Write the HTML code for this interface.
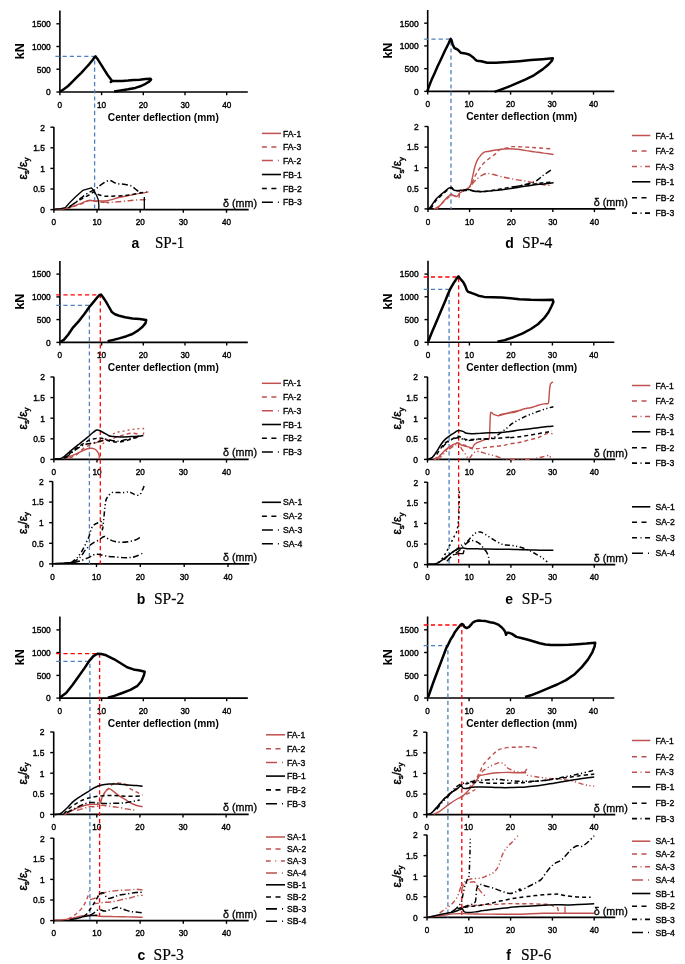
<!DOCTYPE html>
<html><head><meta charset="utf-8"><style>
html,body{margin:0;padding:0;background:#fff;width:685px;height:964px;overflow:hidden;}
svg{display:block;will-change:transform;}

</style></head><body>
<svg width="685" height="964" viewBox="0 0 685 964">
<rect width="685" height="964" fill="#fff"/>
<path d="M59.9,10.5 V92.0 H247.8" fill="none" stroke="#000" stroke-width="1.6"/>
<path d="M56.4,92.0 H59.9" stroke="#000" stroke-width="1.4"/>
<text transform="translate(50.8,95.3) scale(0.9,1)" font-size="9.4" text-anchor="end" font-family="Liberation Sans, sans-serif" stroke="#000" stroke-width="0.4">0</text>
<path d="M56.4,69.2 H59.9" stroke="#000" stroke-width="1.4"/>
<text transform="translate(50.8,72.5) scale(0.9,1)" font-size="9.4" text-anchor="end" font-family="Liberation Sans, sans-serif" stroke="#000" stroke-width="0.4">500</text>
<path d="M56.4,46.5 H59.9" stroke="#000" stroke-width="1.4"/>
<text transform="translate(50.8,49.8) scale(0.9,1)" font-size="9.4" text-anchor="end" font-family="Liberation Sans, sans-serif" stroke="#000" stroke-width="0.4">1000</text>
<path d="M56.4,23.8 H59.9" stroke="#000" stroke-width="1.4"/>
<text transform="translate(50.8,27.1) scale(0.9,1)" font-size="9.4" text-anchor="end" font-family="Liberation Sans, sans-serif" stroke="#000" stroke-width="0.4">1500</text>
<path d="M59.9,92.0 V95.2" stroke="#000" stroke-width="1.4"/>
<text transform="translate(59.9,107.6) scale(0.9,1)" font-size="9.1" text-anchor="middle" font-family="Liberation Sans, sans-serif" stroke="#000" stroke-width="0.4">0</text>
<path d="M101.6,92.0 V95.2" stroke="#000" stroke-width="1.4"/>
<text transform="translate(101.6,107.6) scale(0.9,1)" font-size="9.1" text-anchor="middle" font-family="Liberation Sans, sans-serif" stroke="#000" stroke-width="0.4">10</text>
<path d="M143.3,92.0 V95.2" stroke="#000" stroke-width="1.4"/>
<text transform="translate(143.3,107.6) scale(0.9,1)" font-size="9.1" text-anchor="middle" font-family="Liberation Sans, sans-serif" stroke="#000" stroke-width="0.4">20</text>
<path d="M185.0,92.0 V95.2" stroke="#000" stroke-width="1.4"/>
<text transform="translate(185.0,107.6) scale(0.9,1)" font-size="9.1" text-anchor="middle" font-family="Liberation Sans, sans-serif" stroke="#000" stroke-width="0.4">30</text>
<path d="M226.7,92.0 V95.2" stroke="#000" stroke-width="1.4"/>
<text transform="translate(226.7,107.6) scale(0.9,1)" font-size="9.1" text-anchor="middle" font-family="Liberation Sans, sans-serif" stroke="#000" stroke-width="0.4">40</text>
<text transform="translate(19.6,51.2) rotate(-90)" x="0" y="4.5" font-size="12.5" font-weight="bold" text-anchor="middle" font-family="Liberation Sans, sans-serif">kN</text>
<text x="163.3" y="120.6" font-size="10.8" text-anchor="middle" font-weight="bold" font-family="Liberation Sans, sans-serif" textLength="111" lengthAdjust="spacingAndGlyphs">Center deflection (mm)</text>
<path d="M53.9,127.0 V209.6 H248.7" fill="none" stroke="#000" stroke-width="1.6"/>
<path d="M50.4,209.6 H53.9" stroke="#000" stroke-width="1.4"/>
<text transform="translate(44.9,212.9) scale(0.9,1)" font-size="9.4" text-anchor="end" font-family="Liberation Sans, sans-serif" stroke="#000" stroke-width="0.4">0</text>
<path d="M50.4,189.0 H53.9" stroke="#000" stroke-width="1.4"/>
<text transform="translate(44.9,192.3) scale(0.9,1)" font-size="9.4" text-anchor="end" font-family="Liberation Sans, sans-serif" stroke="#000" stroke-width="0.4">0.5</text>
<path d="M50.4,168.4 H53.9" stroke="#000" stroke-width="1.4"/>
<text transform="translate(44.9,171.7) scale(0.9,1)" font-size="9.4" text-anchor="end" font-family="Liberation Sans, sans-serif" stroke="#000" stroke-width="0.4">1</text>
<path d="M50.4,147.8 H53.9" stroke="#000" stroke-width="1.4"/>
<text transform="translate(44.9,151.1) scale(0.9,1)" font-size="9.4" text-anchor="end" font-family="Liberation Sans, sans-serif" stroke="#000" stroke-width="0.4">1.5</text>
<path d="M50.4,127.2 H53.9" stroke="#000" stroke-width="1.4"/>
<text transform="translate(44.9,130.5) scale(0.9,1)" font-size="9.4" text-anchor="end" font-family="Liberation Sans, sans-serif" stroke="#000" stroke-width="0.4">2</text>
<path d="M53.9,209.6 V212.8" stroke="#000" stroke-width="1.4"/>
<text transform="translate(53.9,225.2) scale(0.9,1)" font-size="9.1" text-anchor="middle" font-family="Liberation Sans, sans-serif" stroke="#000" stroke-width="0.4">0</text>
<path d="M97.0,209.6 V212.8" stroke="#000" stroke-width="1.4"/>
<text transform="translate(97.0,225.2) scale(0.9,1)" font-size="9.1" text-anchor="middle" font-family="Liberation Sans, sans-serif" stroke="#000" stroke-width="0.4">10</text>
<path d="M140.2,209.6 V212.8" stroke="#000" stroke-width="1.4"/>
<text transform="translate(140.2,225.2) scale(0.9,1)" font-size="9.1" text-anchor="middle" font-family="Liberation Sans, sans-serif" stroke="#000" stroke-width="0.4">20</text>
<path d="M183.3,209.6 V212.8" stroke="#000" stroke-width="1.4"/>
<text transform="translate(183.3,225.2) scale(0.9,1)" font-size="9.1" text-anchor="middle" font-family="Liberation Sans, sans-serif" stroke="#000" stroke-width="0.4">30</text>
<path d="M226.5,209.6 V212.8" stroke="#000" stroke-width="1.4"/>
<text transform="translate(226.5,225.2) scale(0.9,1)" font-size="9.1" text-anchor="middle" font-family="Liberation Sans, sans-serif" stroke="#000" stroke-width="0.4">40</text>
<text transform="translate(22.5,168.6) rotate(-90)" x="0" y="4" font-size="12" text-anchor="middle" stroke="#000" stroke-width="0.45" font-family="Liberation Sans, sans-serif">ε<tspan font-size="8" dy="2.6">s</tspan><tspan dy="-2.6">/ε</tspan><tspan font-size="8" dy="2.6">y</tspan></text>
<text x="223.0" y="206.6" font-size="10.2" text-anchor="start" font-weight="normal" font-family="Liberation Sans, sans-serif" textLength="34" lengthAdjust="spacingAndGlyphs" stroke="#000" stroke-width="0.3">δ (mm)</text>
<path d="M55.4,56.4 H94.6 V211.0" fill="none" stroke="#4F81BD" stroke-width="1.3" stroke-dasharray="4.2,3"/>
<path d="M60.1,91.5 L63.8,89.3 L68.1,86.0 L72.5,81.6 L76.9,77.2 L81.3,72.8 L85.7,68.0 L89.3,64.1 L92.2,60.4 L94.4,57.5 L95.6,56.4 L97.3,58.7 L100.3,63.4 L103.9,69.2 L107.6,75.0 L111.2,79.7 L111.9,80.9 L110.8,82.0 L112.7,80.9 L116.3,80.9 L122.2,80.9 L128.0,80.6 L133.8,80.1 L139.7,79.7 L145.5,79.1 L150.6,78.8 L151.1,79.7 L149.2,81.6 L145.5,83.8 L141.1,86.0 L135.3,87.9 L128.0,89.3 L120.7,90.4 L114.1,91.4" fill="none" stroke="#000" stroke-width="2.5" stroke-linejoin="round" stroke-linecap="butt"/>
<path d="M55.0,209.1 C56.5,209.1 60.8,209.3 63.8,208.8 C66.7,208.4 69.6,207.4 72.5,206.5 C75.4,205.6 78.6,204.3 81.3,203.3 C84.0,202.3 86.6,200.8 88.6,200.4 C90.5,199.9 91.3,200.6 93.0,200.7 C94.7,200.8 96.8,200.9 98.8,200.9 C100.7,201.0 102.7,201.1 104.6,200.9 C106.6,200.8 108.3,200.5 110.5,199.9 C112.7,199.4 115.1,198.4 117.8,197.7 C120.5,197.1 123.6,196.6 126.5,196.0 C129.5,195.4 132.6,194.6 135.3,194.1 C138.0,193.6 140.4,193.4 142.6,193.1 C144.8,192.7 147.5,192.1 148.4,191.9" fill="none" stroke="#C0504D" stroke-width="1.4" stroke-linejoin="round"/>
<path d="M66.7,208.7 C67.9,208.3 71.5,207.3 74.0,206.5 C76.4,205.7 78.8,204.8 81.3,203.9 C83.7,202.9 86.1,201.4 88.6,200.9 C91.0,200.5 93.4,201.1 95.9,201.4 C98.3,201.6 101.0,202.2 103.2,202.4 C105.4,202.7 108.0,202.8 109.0,202.8" fill="none" stroke="#C0504D" stroke-width="1.4" stroke-linejoin="round" stroke-dasharray="4,3"/>
<path d="M103.2,201.8 C104.4,201.9 108.0,202.4 110.5,202.4 C112.9,202.4 115.1,202.1 117.8,201.8 C120.5,201.6 123.9,201.2 126.5,200.9 C129.2,200.7 131.6,200.4 133.8,200.2 C136.0,200.0 137.2,200.0 139.7,199.9 C142.1,199.8 147.0,199.6 148.4,199.5" fill="none" stroke="#C0504D" stroke-width="1.4" stroke-linejoin="round" stroke-dasharray="6,2.5,1.2,2.5"/>
<path d="M55.0,209.1 L60.8,208.7 L65.2,207.7 L69.6,202.8 L75.4,197.0 L82.7,190.4 L91.5,187.8 L93.7,190.4 L96.6,195.5 L98.1,199.2 L98.8,203.6 L98.8,209.1" fill="none" stroke="#000" stroke-width="1.3" stroke-linejoin="round" stroke-linecap="butt"/>
<path d="M68.1,208.0 C69.1,207.2 72.0,204.9 74.0,203.6 C75.9,202.2 77.7,201.1 79.8,199.9 C81.9,198.7 84.6,197.3 86.4,196.3 C88.2,195.3 89.5,194.8 90.8,194.1 C92.0,193.4 92.6,191.9 93.7,191.9 C94.8,191.9 95.8,193.4 97.3,194.1 C98.9,194.8 101.2,195.6 103.2,196.0 C105.1,196.4 106.8,196.3 109.0,196.3 C111.2,196.3 113.6,196.1 116.3,196.0 C119.0,195.9 122.4,195.8 125.1,195.5 C127.7,195.3 129.9,194.9 132.4,194.5 C134.8,194.1 137.2,193.5 139.7,193.1 C142.1,192.6 145.8,192.1 147.0,191.9" fill="none" stroke="#000" stroke-width="1.5" stroke-linejoin="round" stroke-dasharray="4,3"/>
<path d="M69.6,206.5 C70.8,205.6 74.5,203.2 76.9,201.4 C79.3,199.6 81.8,197.3 84.2,195.5 C86.6,193.8 89.5,192.3 91.5,191.2 C93.4,190.1 94.4,190.0 95.9,189.0 C97.3,188.0 98.1,186.7 100.3,185.3 C102.4,183.9 106.3,180.8 109.0,180.5 C111.7,180.2 113.9,182.8 116.3,183.4 C118.7,184.1 121.2,183.9 123.6,184.3 C126.0,184.7 129.0,185.0 130.9,185.8 C132.9,186.5 134.0,188.0 135.3,189.0 C136.6,190.0 138.0,191.3 138.9,191.9 C139.9,192.5 140.8,192.5 141.1,192.6" fill="none" stroke="#000" stroke-width="1.5" stroke-linejoin="round" stroke-dasharray="6,2.5,1.2,2.5"/>
<path d="M144.3,197.0 L144.3,209.1" fill="none" stroke="#000" stroke-width="1.3" stroke-linejoin="round" stroke-linecap="butt"/>
<path d="M261.9,133.4 H281.0" stroke="#C0504D" stroke-width="1.5"/>
<text x="283.1" y="136.5" font-size="8.6" text-anchor="start" font-weight="normal" font-family="Liberation Sans, sans-serif" stroke="#000" stroke-width="0.35">FA-1</text>
<path d="M261.9,147.1 H281.0" stroke="#C0504D" stroke-width="1.5" stroke-dasharray="5,4.5"/>
<text x="283.1" y="150.2" font-size="8.6" text-anchor="start" font-weight="normal" font-family="Liberation Sans, sans-serif" stroke="#000" stroke-width="0.35">FA-3</text>
<path d="M261.9,160.6 H281.0" stroke="#C0504D" stroke-width="1.5" stroke-dasharray="11,5,1,20"/>
<text x="283.1" y="163.7" font-size="8.6" text-anchor="start" font-weight="normal" font-family="Liberation Sans, sans-serif" stroke="#000" stroke-width="0.35">FA-2</text>
<path d="M261.9,174.5 H281.0" stroke="#000" stroke-width="1.6"/>
<text x="283.1" y="177.6" font-size="8.6" text-anchor="start" font-weight="normal" font-family="Liberation Sans, sans-serif" stroke="#000" stroke-width="0.35">FB-1</text>
<path d="M261.9,188.5 H281.0" stroke="#000" stroke-width="1.6" stroke-dasharray="5,4.5"/>
<text x="283.1" y="191.6" font-size="8.6" text-anchor="start" font-weight="normal" font-family="Liberation Sans, sans-serif" stroke="#000" stroke-width="0.35">FB-2</text>
<path d="M261.9,202.2 H281.0" stroke="#000" stroke-width="1.6" stroke-dasharray="11,5,1,20"/>
<text x="283.1" y="205.3" font-size="8.6" text-anchor="start" font-weight="normal" font-family="Liberation Sans, sans-serif" stroke="#000" stroke-width="0.35">FB-3</text>
<text x="131.6" y="247.8" font-size="14" text-anchor="start" font-weight="bold" font-family="Liberation Sans, sans-serif">a</text>
<text x="154.9" y="247.8" font-size="16.3" font-family="Liberation Serif, serif" stroke="#000" stroke-width="0.2" textLength="29.3" lengthAdjust="spacingAndGlyphs">SP-1</text>
<path d="M59.9,260.9 V342.4 H247.8" fill="none" stroke="#000" stroke-width="1.6"/>
<path d="M56.4,342.4 H59.9" stroke="#000" stroke-width="1.4"/>
<text transform="translate(50.8,345.7) scale(0.9,1)" font-size="9.4" text-anchor="end" font-family="Liberation Sans, sans-serif" stroke="#000" stroke-width="0.4">0</text>
<path d="M56.4,319.6 H59.9" stroke="#000" stroke-width="1.4"/>
<text transform="translate(50.8,322.9) scale(0.9,1)" font-size="9.4" text-anchor="end" font-family="Liberation Sans, sans-serif" stroke="#000" stroke-width="0.4">500</text>
<path d="M56.4,296.9 H59.9" stroke="#000" stroke-width="1.4"/>
<text transform="translate(50.8,300.2) scale(0.9,1)" font-size="9.4" text-anchor="end" font-family="Liberation Sans, sans-serif" stroke="#000" stroke-width="0.4">1000</text>
<path d="M56.4,274.1 H59.9" stroke="#000" stroke-width="1.4"/>
<text transform="translate(50.8,277.4) scale(0.9,1)" font-size="9.4" text-anchor="end" font-family="Liberation Sans, sans-serif" stroke="#000" stroke-width="0.4">1500</text>
<path d="M59.9,342.4 V345.6" stroke="#000" stroke-width="1.4"/>
<text transform="translate(59.9,358.0) scale(0.9,1)" font-size="9.1" text-anchor="middle" font-family="Liberation Sans, sans-serif" stroke="#000" stroke-width="0.4">0</text>
<path d="M101.6,342.4 V345.6" stroke="#000" stroke-width="1.4"/>
<text transform="translate(101.6,358.0) scale(0.9,1)" font-size="9.1" text-anchor="middle" font-family="Liberation Sans, sans-serif" stroke="#000" stroke-width="0.4">10</text>
<path d="M143.3,342.4 V345.6" stroke="#000" stroke-width="1.4"/>
<text transform="translate(143.3,358.0) scale(0.9,1)" font-size="9.1" text-anchor="middle" font-family="Liberation Sans, sans-serif" stroke="#000" stroke-width="0.4">20</text>
<path d="M185.0,342.4 V345.6" stroke="#000" stroke-width="1.4"/>
<text transform="translate(185.0,358.0) scale(0.9,1)" font-size="9.1" text-anchor="middle" font-family="Liberation Sans, sans-serif" stroke="#000" stroke-width="0.4">30</text>
<path d="M226.7,342.4 V345.6" stroke="#000" stroke-width="1.4"/>
<text transform="translate(226.7,358.0) scale(0.9,1)" font-size="9.1" text-anchor="middle" font-family="Liberation Sans, sans-serif" stroke="#000" stroke-width="0.4">40</text>
<text transform="translate(19.6,301.6) rotate(-90)" x="0" y="4.5" font-size="12.5" font-weight="bold" text-anchor="middle" font-family="Liberation Sans, sans-serif">kN</text>
<text x="163.3" y="371.0" font-size="10.8" text-anchor="middle" font-weight="bold" font-family="Liberation Sans, sans-serif" textLength="111" lengthAdjust="spacingAndGlyphs">Center deflection (mm)</text>
<path d="M53.9,376.8 V459.4 H248.7" fill="none" stroke="#000" stroke-width="1.6"/>
<path d="M50.4,459.4 H53.9" stroke="#000" stroke-width="1.4"/>
<text transform="translate(44.9,462.7) scale(0.9,1)" font-size="9.4" text-anchor="end" font-family="Liberation Sans, sans-serif" stroke="#000" stroke-width="0.4">0</text>
<path d="M50.4,438.8 H53.9" stroke="#000" stroke-width="1.4"/>
<text transform="translate(44.9,442.1) scale(0.9,1)" font-size="9.4" text-anchor="end" font-family="Liberation Sans, sans-serif" stroke="#000" stroke-width="0.4">0.5</text>
<path d="M50.4,418.2 H53.9" stroke="#000" stroke-width="1.4"/>
<text transform="translate(44.9,421.5) scale(0.9,1)" font-size="9.4" text-anchor="end" font-family="Liberation Sans, sans-serif" stroke="#000" stroke-width="0.4">1</text>
<path d="M50.4,397.6 H53.9" stroke="#000" stroke-width="1.4"/>
<text transform="translate(44.9,400.9) scale(0.9,1)" font-size="9.4" text-anchor="end" font-family="Liberation Sans, sans-serif" stroke="#000" stroke-width="0.4">1.5</text>
<path d="M50.4,377.0 H53.9" stroke="#000" stroke-width="1.4"/>
<text transform="translate(44.9,380.3) scale(0.9,1)" font-size="9.4" text-anchor="end" font-family="Liberation Sans, sans-serif" stroke="#000" stroke-width="0.4">2</text>
<path d="M53.9,459.4 V462.6" stroke="#000" stroke-width="1.4"/>
<text transform="translate(53.9,475.0) scale(0.9,1)" font-size="9.1" text-anchor="middle" font-family="Liberation Sans, sans-serif" stroke="#000" stroke-width="0.4">0</text>
<path d="M97.0,459.4 V462.6" stroke="#000" stroke-width="1.4"/>
<text transform="translate(97.0,475.0) scale(0.9,1)" font-size="9.1" text-anchor="middle" font-family="Liberation Sans, sans-serif" stroke="#000" stroke-width="0.4">10</text>
<path d="M140.2,459.4 V462.6" stroke="#000" stroke-width="1.4"/>
<text transform="translate(140.2,475.0) scale(0.9,1)" font-size="9.1" text-anchor="middle" font-family="Liberation Sans, sans-serif" stroke="#000" stroke-width="0.4">20</text>
<path d="M183.3,459.4 V462.6" stroke="#000" stroke-width="1.4"/>
<text transform="translate(183.3,475.0) scale(0.9,1)" font-size="9.1" text-anchor="middle" font-family="Liberation Sans, sans-serif" stroke="#000" stroke-width="0.4">30</text>
<path d="M226.5,459.4 V462.6" stroke="#000" stroke-width="1.4"/>
<text transform="translate(226.5,475.0) scale(0.9,1)" font-size="9.1" text-anchor="middle" font-family="Liberation Sans, sans-serif" stroke="#000" stroke-width="0.4">40</text>
<text transform="translate(22.7,418.4) rotate(-90)" x="0" y="4" font-size="12" text-anchor="middle" stroke="#000" stroke-width="0.45" font-family="Liberation Sans, sans-serif">ε<tspan font-size="8" dy="2.6">s</tspan><tspan dy="-2.6">/ε</tspan><tspan font-size="8" dy="2.6">y</tspan></text>
<text x="223.0" y="456.4" font-size="10.2" text-anchor="start" font-weight="normal" font-family="Liberation Sans, sans-serif" textLength="34" lengthAdjust="spacingAndGlyphs" stroke="#000" stroke-width="0.3">δ (mm)</text>
<path d="M52.6,481.3 V563.9 H249.2" fill="none" stroke="#000" stroke-width="1.6"/>
<path d="M49.1,563.9 H52.6" stroke="#000" stroke-width="1.4"/>
<text transform="translate(43.7,567.2) scale(0.9,1)" font-size="9.4" text-anchor="end" font-family="Liberation Sans, sans-serif" stroke="#000" stroke-width="0.4">0</text>
<path d="M49.1,543.3 H52.6" stroke="#000" stroke-width="1.4"/>
<text transform="translate(43.7,546.6) scale(0.9,1)" font-size="9.4" text-anchor="end" font-family="Liberation Sans, sans-serif" stroke="#000" stroke-width="0.4">0.5</text>
<path d="M49.1,522.7 H52.6" stroke="#000" stroke-width="1.4"/>
<text transform="translate(43.7,526.0) scale(0.9,1)" font-size="9.4" text-anchor="end" font-family="Liberation Sans, sans-serif" stroke="#000" stroke-width="0.4">1</text>
<path d="M49.1,502.1 H52.6" stroke="#000" stroke-width="1.4"/>
<text transform="translate(43.7,505.4) scale(0.9,1)" font-size="9.4" text-anchor="end" font-family="Liberation Sans, sans-serif" stroke="#000" stroke-width="0.4">1.5</text>
<path d="M49.1,481.5 H52.6" stroke="#000" stroke-width="1.4"/>
<text transform="translate(43.7,484.8) scale(0.9,1)" font-size="9.4" text-anchor="end" font-family="Liberation Sans, sans-serif" stroke="#000" stroke-width="0.4">2</text>
<path d="M52.6,563.9 V567.1" stroke="#000" stroke-width="1.4"/>
<text transform="translate(52.6,579.5) scale(0.9,1)" font-size="9.1" text-anchor="middle" font-family="Liberation Sans, sans-serif" stroke="#000" stroke-width="0.4">0</text>
<path d="M96.5,563.9 V567.1" stroke="#000" stroke-width="1.4"/>
<text transform="translate(96.5,579.5) scale(0.9,1)" font-size="9.1" text-anchor="middle" font-family="Liberation Sans, sans-serif" stroke="#000" stroke-width="0.4">10</text>
<path d="M140.3,563.9 V567.1" stroke="#000" stroke-width="1.4"/>
<text transform="translate(140.3,579.5) scale(0.9,1)" font-size="9.1" text-anchor="middle" font-family="Liberation Sans, sans-serif" stroke="#000" stroke-width="0.4">20</text>
<path d="M184.2,563.9 V567.1" stroke="#000" stroke-width="1.4"/>
<text transform="translate(184.2,579.5) scale(0.9,1)" font-size="9.1" text-anchor="middle" font-family="Liberation Sans, sans-serif" stroke="#000" stroke-width="0.4">30</text>
<path d="M228.0,563.9 V567.1" stroke="#000" stroke-width="1.4"/>
<text transform="translate(228.0,579.5) scale(0.9,1)" font-size="9.1" text-anchor="middle" font-family="Liberation Sans, sans-serif" stroke="#000" stroke-width="0.4">40</text>
<text transform="translate(22.7,522.9) rotate(-90)" x="0" y="4" font-size="12" text-anchor="middle" stroke="#000" stroke-width="0.45" font-family="Liberation Sans, sans-serif">ε<tspan font-size="8" dy="2.6">s</tspan><tspan dy="-2.6">/ε</tspan><tspan font-size="8" dy="2.6">y</tspan></text>
<text x="223.0" y="560.9" font-size="10.2" text-anchor="start" font-weight="normal" font-family="Liberation Sans, sans-serif" textLength="34" lengthAdjust="spacingAndGlyphs" stroke="#000" stroke-width="0.3">δ (mm)</text>
<path d="M56.2,294.9 H100.3 V564.0" fill="none" stroke="#FF0000" stroke-width="1.3" stroke-dasharray="4.2,3"/>
<path d="M56.2,305.4 H89.4 V564.0" fill="none" stroke="#4F81BD" stroke-width="1.3" stroke-dasharray="4.2,3"/>
<path d="M60.1,342.0 L63.8,339.9 L68.1,334.7 L72.5,328.2 L78.4,321.6 L84.2,314.3 L89.3,307.0 L93.0,302.6 L96.6,298.2 L99.5,295.0 L101.0,294.6 L103.2,297.5 L106.1,301.9 L109.0,307.0 L111.9,312.1 L114.9,314.3 L119.2,315.8 L125.1,317.2 L132.4,318.4 L139.7,319.1 L146.2,320.1 L145.5,323.1 L142.6,326.7 L138.2,330.4 L132.4,334.0 L126.5,336.2 L119.2,338.4 L113.4,339.9 L107.6,341.3" fill="none" stroke="#000" stroke-width="2.5" stroke-linejoin="round" stroke-linecap="butt"/>
<path d="M63.8,458.8 C64.7,458.4 67.4,457.5 69.6,456.6 C71.8,455.8 74.5,454.8 76.9,453.7 C79.3,452.6 82.0,450.9 84.2,450.0 C86.4,449.1 88.3,448.5 90.0,448.3 C91.7,448.1 93.2,448.3 94.4,448.9 C95.6,449.4 96.6,450.6 97.3,451.5 C98.1,452.4 98.4,453.2 98.8,454.4 C99.2,455.6 99.4,458.1 99.5,458.8" fill="none" stroke="#C0504D" stroke-width="1.4" stroke-linejoin="round"/>
<path d="M69.6,458.1 C70.8,457.5 74.5,456.1 76.9,454.4 C79.3,452.7 82.0,449.4 84.2,447.8 C86.4,446.3 88.1,445.8 90.0,444.9 C92.0,444.1 94.4,443.2 95.9,442.7 C97.3,442.3 97.3,442.4 98.8,442.0 C100.3,441.6 102.9,440.8 104.6,440.5 C106.3,440.3 107.6,440.9 109.0,440.5 C110.5,440.2 111.7,439.1 113.4,438.4 C115.1,437.6 117.3,436.8 119.2,436.2 C121.2,435.6 123.1,435.2 125.1,434.7 C127.0,434.2 129.0,433.4 130.9,433.2 C132.9,433.1 135.5,433.4 136.8,433.7 C138.0,433.9 138.0,434.5 138.2,434.7" fill="none" stroke="#C0504D" stroke-width="1.4" stroke-linejoin="round" stroke-dasharray="4,3"/>
<path d="M98.8,439.8 C99.5,440.4 102.2,443.5 103.2,443.5 C104.1,443.5 103.4,441.2 104.6,439.8 C105.9,438.5 108.5,436.7 110.5,435.4 C112.4,434.2 114.1,433.2 116.3,432.5 C118.5,431.8 121.2,431.5 123.6,431.1 C126.0,430.6 128.7,430.0 130.9,429.6 C133.1,429.2 134.7,429.0 136.8,428.9 C138.8,428.7 142.2,427.5 143.3,428.6 C144.4,429.7 143.3,434.3 143.3,435.4" fill="none" stroke="#C0504D" stroke-width="1.4" stroke-linejoin="round" stroke-dasharray="2,3"/>
<path d="M55.0,458.8 C56.1,458.7 59.6,458.8 61.6,458.1 C63.5,457.3 64.9,455.9 66.7,454.4 C68.5,453.0 70.3,451.1 72.5,449.3 C74.7,447.5 77.4,445.4 79.8,443.5 C82.3,441.5 84.9,439.5 87.1,437.6 C89.3,435.8 91.4,433.8 93.0,432.5 C94.5,431.3 95.6,430.4 96.6,430.0 C97.6,429.7 97.7,429.9 98.8,430.3 C99.9,430.7 101.5,431.6 103.2,432.5 C104.9,433.4 107.3,435.0 109.0,435.7 C110.7,436.4 111.4,436.4 113.4,436.6 C115.3,436.8 117.8,436.9 120.7,436.9 C123.6,436.9 128.0,436.7 130.9,436.6 C133.8,436.5 136.1,436.4 138.2,436.2 C140.3,436.0 142.5,435.6 143.3,435.4" fill="none" stroke="#000" stroke-width="1.5" stroke-linejoin="round"/>
<path d="M63.8,458.5 C64.7,457.7 67.7,455.3 69.6,453.7 C71.5,452.1 73.5,450.3 75.4,448.9 C77.4,447.4 79.3,446.2 81.3,444.9 C83.2,443.7 85.4,442.2 87.1,441.3 C88.8,440.4 90.0,440.0 91.5,439.5 C93.0,439.0 94.4,438.6 95.9,438.4 C97.3,438.1 98.8,437.9 100.3,438.1 C101.7,438.2 102.9,438.6 104.6,439.1 C106.3,439.6 108.5,440.8 110.5,441.3 C112.4,441.8 114.4,442.0 116.3,442.0 C118.3,442.1 120.2,441.9 122.2,441.6 C124.1,441.3 126.0,440.6 128.0,440.1 C129.9,439.6 131.9,438.9 133.8,438.4 C135.8,437.8 138.7,436.9 139.7,436.6" fill="none" stroke="#000" stroke-width="1.5" stroke-linejoin="round" stroke-dasharray="4,3"/>
<path d="M65.2,458.1 C66.2,457.3 69.1,454.8 71.1,453.2 C73.0,451.7 74.7,450.3 76.9,448.9 C79.1,447.5 82.0,445.8 84.2,444.9 C86.4,444.0 88.1,443.9 90.0,443.5 C92.0,443.1 94.2,442.8 95.9,442.4 C97.6,442.1 98.6,441.8 100.3,441.3 C102.0,440.8 104.1,439.6 106.1,439.5 C108.0,439.4 110.0,440.3 111.9,440.5 C113.9,440.8 115.6,441.4 117.8,441.3 C120.0,441.2 122.4,440.4 125.1,439.8 C127.7,439.2 131.4,438.2 133.8,437.6 C136.3,437.0 138.7,436.4 139.7,436.2" fill="none" stroke="#000" stroke-width="1.5" stroke-linejoin="round" stroke-dasharray="6,2.5,1.2,2.5"/>
<path d="M55.0,563.4 C56.5,563.3 61.3,563.1 63.8,563.0 C66.2,562.8 67.9,562.8 69.6,562.7 C71.3,562.5 73.2,562.1 74.0,561.9" fill="none" stroke="#000" stroke-width="1.5" stroke-linejoin="round"/>
<path d="M71.1,562.7 C72.0,561.9 75.1,559.9 76.9,558.0 C78.7,556.1 80.4,553.6 82.0,551.0 C83.6,548.4 85.2,544.8 86.4,542.2 C87.6,539.7 88.5,538.0 89.3,535.7 C90.2,533.4 90.6,530.2 91.5,528.4 C92.3,526.5 93.2,525.7 94.4,524.7 C95.6,523.7 97.6,523.0 98.8,522.5 C100.0,522.1 100.8,520.9 101.4,522.1 C102.0,523.3 102.1,529.9 102.4,529.8 C102.8,529.8 103.1,525.1 103.5,521.8 C103.8,518.5 104.3,513.5 104.6,510.1 C105.0,506.7 105.2,503.5 105.7,501.4 C106.1,499.2 106.5,498.4 107.6,497.0 C108.6,495.5 110.2,493.3 111.9,492.6 C113.6,491.9 115.8,492.6 117.8,492.6 C119.7,492.6 121.9,492.7 123.6,492.6 C125.3,492.5 126.8,491.9 128.0,491.9 C129.2,491.9 129.7,492.1 130.9,492.6 C132.1,493.1 133.8,494.4 135.3,494.8 C136.8,495.2 138.5,495.6 139.7,494.8 C140.9,493.9 141.9,491.1 142.6,489.7 C143.3,488.2 143.8,486.6 144.1,486.0" fill="none" stroke="#000" stroke-width="1.5" stroke-linejoin="round" stroke-dasharray="5,2.5,1.2,2.5,1.2,2.5"/>
<path d="M72.5,562.4 C73.7,561.6 77.6,559.7 79.8,557.6 C82.0,555.4 84.0,551.6 85.7,549.5 C87.4,547.5 88.6,546.4 90.0,545.2 C91.5,543.9 93.0,543.1 94.4,542.2 C95.9,541.4 97.6,540.8 98.8,540.0 C100.0,539.3 100.7,538.5 101.7,537.9 C102.7,537.2 103.4,536.2 104.6,536.4 C105.9,536.6 107.3,538.5 109.0,539.3 C110.7,540.2 112.7,541.0 114.9,541.5 C117.0,542.0 119.7,542.2 122.2,542.2 C124.6,542.2 127.3,541.9 129.5,541.5 C131.6,541.1 133.5,540.8 135.3,540.0 C137.1,539.3 139.5,537.6 140.4,537.1" fill="none" stroke="#000" stroke-width="1.5" stroke-linejoin="round" stroke-dasharray="6,2.5,1.2,2.5"/>
<path d="M74.0,562.4 C75.2,562.1 78.8,561.3 81.3,560.5 C83.7,559.7 86.6,558.5 88.6,557.6 C90.5,556.7 91.6,555.6 93.0,555.1 C94.3,554.5 95.4,554.3 96.6,554.2 C97.8,554.1 98.7,554.3 100.3,554.6 C101.8,555.0 103.9,555.7 106.1,556.1 C108.3,556.5 110.7,556.6 113.4,556.8 C116.1,557.1 119.5,557.4 122.2,557.6 C124.8,557.7 127.3,557.7 129.5,557.6 C131.6,557.4 133.1,557.3 135.3,556.5 C137.5,555.8 141.4,553.7 142.6,553.2" fill="none" stroke="#000" stroke-width="1.5" stroke-linejoin="round" stroke-dasharray="6,2.5,1.2,2.5"/>
<path d="M261.9,383.3 H281.0" stroke="#C0504D" stroke-width="1.5"/>
<text x="283.1" y="386.4" font-size="8.6" text-anchor="start" font-weight="normal" font-family="Liberation Sans, sans-serif" stroke="#000" stroke-width="0.35">FA-1</text>
<path d="M261.9,397.1 H281.0" stroke="#C0504D" stroke-width="1.5" stroke-dasharray="5,4.5"/>
<text x="283.1" y="400.2" font-size="8.6" text-anchor="start" font-weight="normal" font-family="Liberation Sans, sans-serif" stroke="#000" stroke-width="0.35">FA-2</text>
<path d="M261.9,410.8 H281.0" stroke="#C0504D" stroke-width="1.5" stroke-dasharray="11,5,1,20"/>
<text x="283.1" y="413.9" font-size="8.6" text-anchor="start" font-weight="normal" font-family="Liberation Sans, sans-serif" stroke="#000" stroke-width="0.35">FA-3</text>
<path d="M261.9,424.5 H281.0" stroke="#000" stroke-width="1.6"/>
<text x="283.1" y="427.6" font-size="8.6" text-anchor="start" font-weight="normal" font-family="Liberation Sans, sans-serif" stroke="#000" stroke-width="0.35">FB-1</text>
<path d="M261.9,438.3 H281.0" stroke="#000" stroke-width="1.6" stroke-dasharray="5,4.5"/>
<text x="283.1" y="441.4" font-size="8.6" text-anchor="start" font-weight="normal" font-family="Liberation Sans, sans-serif" stroke="#000" stroke-width="0.35">FB-2</text>
<path d="M261.9,452.0 H281.0" stroke="#000" stroke-width="1.6" stroke-dasharray="11,5,1,20"/>
<text x="283.1" y="455.1" font-size="8.6" text-anchor="start" font-weight="normal" font-family="Liberation Sans, sans-serif" stroke="#000" stroke-width="0.35">FB-3</text>
<path d="M261.9,502.3 H281.0" stroke="#000" stroke-width="1.6"/>
<text x="283.1" y="505.4" font-size="8.6" text-anchor="start" font-weight="normal" font-family="Liberation Sans, sans-serif" stroke="#000" stroke-width="0.35">SA-1</text>
<path d="M261.9,516.3 H281.0" stroke="#000" stroke-width="1.6" stroke-dasharray="5,4.5"/>
<text x="283.1" y="519.4" font-size="8.6" text-anchor="start" font-weight="normal" font-family="Liberation Sans, sans-serif" stroke="#000" stroke-width="0.35">SA-2</text>
<path d="M261.9,530.0 H281.0" stroke="#000" stroke-width="1.6" stroke-dasharray="11,5,1,20"/>
<text x="283.1" y="533.1" font-size="8.6" text-anchor="start" font-weight="normal" font-family="Liberation Sans, sans-serif" stroke="#000" stroke-width="0.35">SA-3</text>
<path d="M261.9,543.8 H281.0" stroke="#000" stroke-width="1.6" stroke-dasharray="11,5,1,20"/>
<text x="283.1" y="546.9" font-size="8.6" text-anchor="start" font-weight="normal" font-family="Liberation Sans, sans-serif" stroke="#000" stroke-width="0.35">SA-4</text>
<text x="136.7" y="603.7" font-size="14" text-anchor="start" font-weight="bold" font-family="Liberation Sans, sans-serif">b</text>
<text x="153.9" y="603.7" font-size="16.3" font-family="Liberation Serif, serif" stroke="#000" stroke-width="0.2" textLength="30.3" lengthAdjust="spacingAndGlyphs">SP-2</text>
<path d="M59.9,616.6 V698.1 H247.8" fill="none" stroke="#000" stroke-width="1.6"/>
<path d="M56.4,698.1 H59.9" stroke="#000" stroke-width="1.4"/>
<text transform="translate(50.8,701.4) scale(0.9,1)" font-size="9.4" text-anchor="end" font-family="Liberation Sans, sans-serif" stroke="#000" stroke-width="0.4">0</text>
<path d="M56.4,675.4 H59.9" stroke="#000" stroke-width="1.4"/>
<text transform="translate(50.8,678.6) scale(0.9,1)" font-size="9.4" text-anchor="end" font-family="Liberation Sans, sans-serif" stroke="#000" stroke-width="0.4">500</text>
<path d="M56.4,652.6 H59.9" stroke="#000" stroke-width="1.4"/>
<text transform="translate(50.8,655.9) scale(0.9,1)" font-size="9.4" text-anchor="end" font-family="Liberation Sans, sans-serif" stroke="#000" stroke-width="0.4">1000</text>
<path d="M56.4,629.9 H59.9" stroke="#000" stroke-width="1.4"/>
<text transform="translate(50.8,633.1) scale(0.9,1)" font-size="9.4" text-anchor="end" font-family="Liberation Sans, sans-serif" stroke="#000" stroke-width="0.4">1500</text>
<path d="M59.9,698.1 V701.3" stroke="#000" stroke-width="1.4"/>
<text transform="translate(59.9,713.7) scale(0.9,1)" font-size="9.1" text-anchor="middle" font-family="Liberation Sans, sans-serif" stroke="#000" stroke-width="0.4">0</text>
<path d="M101.6,698.1 V701.3" stroke="#000" stroke-width="1.4"/>
<text transform="translate(101.6,713.7) scale(0.9,1)" font-size="9.1" text-anchor="middle" font-family="Liberation Sans, sans-serif" stroke="#000" stroke-width="0.4">10</text>
<path d="M143.3,698.1 V701.3" stroke="#000" stroke-width="1.4"/>
<text transform="translate(143.3,713.7) scale(0.9,1)" font-size="9.1" text-anchor="middle" font-family="Liberation Sans, sans-serif" stroke="#000" stroke-width="0.4">20</text>
<path d="M185.0,698.1 V701.3" stroke="#000" stroke-width="1.4"/>
<text transform="translate(185.0,713.7) scale(0.9,1)" font-size="9.1" text-anchor="middle" font-family="Liberation Sans, sans-serif" stroke="#000" stroke-width="0.4">30</text>
<path d="M226.7,698.1 V701.3" stroke="#000" stroke-width="1.4"/>
<text transform="translate(226.7,713.7) scale(0.9,1)" font-size="9.1" text-anchor="middle" font-family="Liberation Sans, sans-serif" stroke="#000" stroke-width="0.4">40</text>
<text transform="translate(19.6,657.3) rotate(-90)" x="0" y="4.5" font-size="12.5" font-weight="bold" text-anchor="middle" font-family="Liberation Sans, sans-serif">kN</text>
<text x="163.3" y="726.7" font-size="10.8" text-anchor="middle" font-weight="bold" font-family="Liberation Sans, sans-serif" textLength="111" lengthAdjust="spacingAndGlyphs">Center deflection (mm)</text>
<path d="M53.7,731.8 V814.4 H248.7" fill="none" stroke="#000" stroke-width="1.6"/>
<path d="M50.2,814.4 H53.7" stroke="#000" stroke-width="1.4"/>
<text transform="translate(44.4,817.7) scale(0.9,1)" font-size="9.4" text-anchor="end" font-family="Liberation Sans, sans-serif" stroke="#000" stroke-width="0.4">0</text>
<path d="M50.2,793.8 H53.7" stroke="#000" stroke-width="1.4"/>
<text transform="translate(44.4,797.1) scale(0.9,1)" font-size="9.4" text-anchor="end" font-family="Liberation Sans, sans-serif" stroke="#000" stroke-width="0.4">0.5</text>
<path d="M50.2,773.2 H53.7" stroke="#000" stroke-width="1.4"/>
<text transform="translate(44.4,776.5) scale(0.9,1)" font-size="9.4" text-anchor="end" font-family="Liberation Sans, sans-serif" stroke="#000" stroke-width="0.4">1</text>
<path d="M50.2,752.6 H53.7" stroke="#000" stroke-width="1.4"/>
<text transform="translate(44.4,755.9) scale(0.9,1)" font-size="9.4" text-anchor="end" font-family="Liberation Sans, sans-serif" stroke="#000" stroke-width="0.4">1.5</text>
<path d="M50.2,732.0 H53.7" stroke="#000" stroke-width="1.4"/>
<text transform="translate(44.4,735.3) scale(0.9,1)" font-size="9.4" text-anchor="end" font-family="Liberation Sans, sans-serif" stroke="#000" stroke-width="0.4">2</text>
<path d="M53.7,814.4 V817.6" stroke="#000" stroke-width="1.4"/>
<text transform="translate(53.7,830.0) scale(0.9,1)" font-size="9.1" text-anchor="middle" font-family="Liberation Sans, sans-serif" stroke="#000" stroke-width="0.4">0</text>
<path d="M96.8,814.4 V817.6" stroke="#000" stroke-width="1.4"/>
<text transform="translate(96.8,830.0) scale(0.9,1)" font-size="9.1" text-anchor="middle" font-family="Liberation Sans, sans-serif" stroke="#000" stroke-width="0.4">10</text>
<path d="M139.9,814.4 V817.6" stroke="#000" stroke-width="1.4"/>
<text transform="translate(139.9,830.0) scale(0.9,1)" font-size="9.1" text-anchor="middle" font-family="Liberation Sans, sans-serif" stroke="#000" stroke-width="0.4">20</text>
<path d="M183.0,814.4 V817.6" stroke="#000" stroke-width="1.4"/>
<text transform="translate(183.0,830.0) scale(0.9,1)" font-size="9.1" text-anchor="middle" font-family="Liberation Sans, sans-serif" stroke="#000" stroke-width="0.4">30</text>
<path d="M226.1,814.4 V817.6" stroke="#000" stroke-width="1.4"/>
<text transform="translate(226.1,830.0) scale(0.9,1)" font-size="9.1" text-anchor="middle" font-family="Liberation Sans, sans-serif" stroke="#000" stroke-width="0.4">40</text>
<text transform="translate(22.7,773.4) rotate(-90)" x="0" y="4" font-size="12" text-anchor="middle" stroke="#000" stroke-width="0.45" font-family="Liberation Sans, sans-serif">ε<tspan font-size="8" dy="2.6">s</tspan><tspan dy="-2.6">/ε</tspan><tspan font-size="8" dy="2.6">y</tspan></text>
<text x="223.0" y="811.4" font-size="10.2" text-anchor="start" font-weight="normal" font-family="Liberation Sans, sans-serif" textLength="34" lengthAdjust="spacingAndGlyphs" stroke="#000" stroke-width="0.3">δ (mm)</text>
<path d="M53.7,838.0 V920.6 H248.7" fill="none" stroke="#000" stroke-width="1.6"/>
<path d="M50.2,920.6 H53.7" stroke="#000" stroke-width="1.4"/>
<text transform="translate(44.7,923.9) scale(0.9,1)" font-size="9.4" text-anchor="end" font-family="Liberation Sans, sans-serif" stroke="#000" stroke-width="0.4">0</text>
<path d="M50.2,900.0 H53.7" stroke="#000" stroke-width="1.4"/>
<text transform="translate(44.7,903.3) scale(0.9,1)" font-size="9.4" text-anchor="end" font-family="Liberation Sans, sans-serif" stroke="#000" stroke-width="0.4">0.5</text>
<path d="M50.2,879.4 H53.7" stroke="#000" stroke-width="1.4"/>
<text transform="translate(44.7,882.7) scale(0.9,1)" font-size="9.4" text-anchor="end" font-family="Liberation Sans, sans-serif" stroke="#000" stroke-width="0.4">1</text>
<path d="M50.2,858.8 H53.7" stroke="#000" stroke-width="1.4"/>
<text transform="translate(44.7,862.1) scale(0.9,1)" font-size="9.4" text-anchor="end" font-family="Liberation Sans, sans-serif" stroke="#000" stroke-width="0.4">1.5</text>
<path d="M50.2,838.2 H53.7" stroke="#000" stroke-width="1.4"/>
<text transform="translate(44.7,841.5) scale(0.9,1)" font-size="9.4" text-anchor="end" font-family="Liberation Sans, sans-serif" stroke="#000" stroke-width="0.4">2</text>
<path d="M53.7,920.6 V923.8" stroke="#000" stroke-width="1.4"/>
<text transform="translate(53.7,936.2) scale(0.9,1)" font-size="9.1" text-anchor="middle" font-family="Liberation Sans, sans-serif" stroke="#000" stroke-width="0.4">0</text>
<path d="M96.9,920.6 V923.8" stroke="#000" stroke-width="1.4"/>
<text transform="translate(96.9,936.2) scale(0.9,1)" font-size="9.1" text-anchor="middle" font-family="Liberation Sans, sans-serif" stroke="#000" stroke-width="0.4">10</text>
<path d="M140.1,920.6 V923.8" stroke="#000" stroke-width="1.4"/>
<text transform="translate(140.1,936.2) scale(0.9,1)" font-size="9.1" text-anchor="middle" font-family="Liberation Sans, sans-serif" stroke="#000" stroke-width="0.4">20</text>
<path d="M183.3,920.6 V923.8" stroke="#000" stroke-width="1.4"/>
<text transform="translate(183.3,936.2) scale(0.9,1)" font-size="9.1" text-anchor="middle" font-family="Liberation Sans, sans-serif" stroke="#000" stroke-width="0.4">30</text>
<path d="M226.5,920.6 V923.8" stroke="#000" stroke-width="1.4"/>
<text transform="translate(226.5,936.2) scale(0.9,1)" font-size="9.1" text-anchor="middle" font-family="Liberation Sans, sans-serif" stroke="#000" stroke-width="0.4">40</text>
<text transform="translate(22.7,879.6) rotate(-90)" x="0" y="4" font-size="12" text-anchor="middle" stroke="#000" stroke-width="0.45" font-family="Liberation Sans, sans-serif">ε<tspan font-size="8" dy="2.6">s</tspan><tspan dy="-2.6">/ε</tspan><tspan font-size="8" dy="2.6">y</tspan></text>
<text x="223.0" y="917.6" font-size="10.2" text-anchor="start" font-weight="normal" font-family="Liberation Sans, sans-serif" textLength="34" lengthAdjust="spacingAndGlyphs" stroke="#000" stroke-width="0.3">δ (mm)</text>
<path d="M56.2,653.7 H99.6 V920.0" fill="none" stroke="#FF0000" stroke-width="1.3" stroke-dasharray="4.2,3"/>
<path d="M56.2,661.4 H89.9 V920.0" fill="none" stroke="#4F81BD" stroke-width="1.3" stroke-dasharray="4.2,3"/>
<path d="M59.6,697.8 L66.1,693.0 L72.5,685.0 L78.9,676.1 L84.5,668.1 L89.3,660.9 L93.4,656.1 L97.4,653.7 L101.4,654.0 L106.2,655.3 L114.2,659.3 L120.7,663.3 L127.1,667.3 L133.5,669.4 L139.9,670.5 L144.7,671.8 L143.9,675.3 L141.5,681.0 L137.5,685.8 L130.3,689.8 L122.3,693.0 L114.2,695.9 L107.8,697.8" fill="none" stroke="#000" stroke-width="2.5" stroke-linejoin="round" stroke-linecap="butt"/>
<path d="M63.8,814.7 C64.7,814.3 67.4,812.9 69.6,811.8 C71.8,810.7 74.5,809.2 76.9,808.2 C79.3,807.1 82.0,806.2 84.2,805.5 C86.4,804.9 88.3,804.7 90.0,804.5 C91.7,804.3 93.0,804.2 94.4,804.2 C95.9,804.2 97.8,804.8 98.8,804.5 C99.8,804.2 99.5,803.9 100.3,802.3 C101.0,800.8 102.1,797.1 103.2,795.0 C104.3,793.0 105.7,790.9 106.8,789.9 C107.9,788.9 108.6,788.7 109.7,788.9 C110.8,789.1 111.8,790.2 113.4,791.4 C115.0,792.5 117.3,794.4 119.2,795.8 C121.2,797.1 123.1,798.2 125.1,799.4 C127.0,800.6 129.0,802.0 130.9,803.1 C132.9,804.1 134.8,804.9 136.8,805.5 C138.7,806.2 141.6,806.5 142.6,806.7" fill="none" stroke="#C0504D" stroke-width="1.4" stroke-linejoin="round"/>
<path d="M100.3,803.1 C100.7,801.8 102.2,797.8 103.2,795.8 C104.1,793.7 105.1,791.9 106.1,790.7 C107.1,789.4 108.1,789.2 109.3,788.0 C110.5,786.8 111.7,784.2 113.4,783.4 C115.0,782.5 117.3,782.9 119.2,783.1 C121.2,783.2 123.1,783.1 125.1,784.1 C127.0,785.1 129.0,787.9 130.9,789.2 C132.9,790.5 134.8,791.1 136.8,792.1 C138.7,793.1 141.6,794.5 142.6,795.0" fill="none" stroke="#C0504D" stroke-width="1.4" stroke-linejoin="round" stroke-dasharray="4,3"/>
<path d="M76.9,810.4 C78.1,810.0 82.0,808.8 84.2,808.2 C86.4,807.6 88.1,807.0 90.0,806.7 C92.0,806.5 93.9,807.0 95.9,806.7 C97.8,806.5 99.8,805.4 101.7,805.3 C103.7,805.1 105.6,805.7 107.6,806.0 C109.5,806.2 111.4,806.5 113.4,806.7 C115.3,807.0 117.0,807.1 119.2,807.4 C121.4,807.8 124.3,808.5 126.5,808.9 C128.7,809.3 130.7,809.7 132.4,809.9 C134.1,810.2 136.0,810.3 136.8,810.4" fill="none" stroke="#C0504D" stroke-width="1.4" stroke-linejoin="round" stroke-dasharray="6,2.5,1.2,2.5"/>
<path d="M55.0,814.7 C56.0,814.5 58.9,814.4 60.8,813.3 C62.8,812.2 64.5,810.2 66.7,808.2 C68.9,806.1 71.5,802.9 74.0,800.9 C76.4,798.8 78.8,797.3 81.3,795.8 C83.7,794.2 86.4,792.7 88.6,791.4 C90.8,790.0 92.2,788.8 94.4,787.7 C96.6,786.7 99.3,785.7 101.7,785.1 C104.1,784.5 106.3,784.3 109.0,784.1 C111.7,783.9 114.6,783.9 117.8,784.1 C120.9,784.3 124.8,784.9 128.0,785.1 C131.2,785.4 134.3,785.4 136.8,785.5 C139.2,785.7 141.6,786.2 142.6,786.3" fill="none" stroke="#000" stroke-width="1.5" stroke-linejoin="round"/>
<path d="M63.8,814.0 C64.7,813.0 67.4,810.0 69.6,808.2 C71.8,806.4 74.5,804.5 76.9,803.1 C79.3,801.6 82.0,800.3 84.2,799.4 C86.4,798.5 88.1,798.2 90.0,797.7 C92.0,797.2 93.7,796.8 95.9,796.5 C98.1,796.2 100.7,795.9 103.2,795.8 C105.6,795.6 108.0,795.5 110.5,795.5 C112.9,795.5 115.3,795.6 117.8,795.8 C120.2,795.9 122.4,796.1 125.1,796.2 C127.7,796.3 131.2,796.2 133.8,796.2 C136.5,796.2 139.9,796.1 141.1,796.1" fill="none" stroke="#000" stroke-width="1.5" stroke-linejoin="round" stroke-dasharray="4,3"/>
<path d="M66.7,812.6 C67.7,812.1 70.6,810.6 72.5,809.6 C74.5,808.7 76.4,807.7 78.4,806.7 C80.3,805.7 82.3,804.5 84.2,803.8 C86.1,803.1 88.3,802.8 90.0,802.6 C91.7,802.4 93.0,802.6 94.4,802.6 C95.9,802.7 97.1,802.9 98.8,803.1 C100.5,803.2 102.7,803.5 104.6,803.5 C106.6,803.6 108.5,803.4 110.5,803.4 C112.4,803.3 114.4,803.3 116.3,803.2 C118.3,803.2 120.2,803.2 122.2,803.1 C124.1,802.9 126.0,802.7 128.0,802.3 C129.9,802.0 131.9,801.5 133.8,801.2 C135.8,800.8 138.7,800.3 139.7,800.1" fill="none" stroke="#000" stroke-width="1.5" stroke-linejoin="round" stroke-dasharray="6,2.5,1.2,2.5"/>
<path d="M55.0,919.9 C56.5,919.8 60.8,919.9 63.8,919.6 C66.7,919.3 69.6,918.7 72.5,918.1 C75.4,917.5 78.4,916.4 81.3,915.9 C84.2,915.4 87.1,915.1 90.0,915.2 C93.0,915.2 94.9,916.0 98.8,916.2 C102.7,916.4 108.5,916.5 113.4,916.6 C118.3,916.8 123.1,916.8 128.0,916.9 C132.9,917.0 140.2,917.2 142.6,917.2" fill="none" stroke="#C0504D" stroke-width="1.4" stroke-linejoin="round"/>
<path d="M68.1,919.1 C69.6,918.2 74.5,915.3 76.9,913.3 C79.3,911.3 81.3,909.0 82.7,907.0 C84.2,905.1 84.8,903.4 85.7,901.6 C86.5,899.9 87.3,898.2 87.8,896.5 C88.4,894.8 88.7,892.2 88.9,891.4" fill="none" stroke="#C0504D" stroke-width="1.4" stroke-linejoin="round" stroke-dasharray="4,3"/>
<path d="M90.0,899.7 C91.0,899.4 93.9,898.6 95.9,897.7 C97.8,896.7 99.8,894.8 101.7,893.9 C103.7,892.9 105.4,892.4 107.6,891.8 C109.7,891.3 112.4,890.9 114.9,890.7 C117.3,890.4 119.5,890.3 122.2,890.2 C124.8,890.1 128.5,890.1 130.9,889.9 C133.3,889.8 134.8,889.2 136.8,889.2 C138.7,889.2 141.6,889.8 142.6,889.9" fill="none" stroke="#C0504D" stroke-width="1.4" stroke-linejoin="round" stroke-dasharray="6,2.5,1.2,2.5"/>
<path d="M93.0,903.8 C93.9,903.7 96.8,903.3 98.8,903.1 C100.7,902.8 102.7,902.5 104.6,902.3 C106.6,902.2 108.5,902.3 110.5,902.0 C112.4,901.8 114.1,901.4 116.3,900.9 C118.5,900.4 121.2,899.7 123.6,899.1 C126.0,898.6 128.7,898.2 130.9,897.7 C133.1,897.1 134.8,896.2 136.8,895.8 C138.7,895.4 141.6,895.4 142.6,895.3" fill="none" stroke="#C0504D" stroke-width="1.4" stroke-linejoin="round" stroke-dasharray="6,2.5,1.2,2.5"/>
<path d="M69.6,919.9 C70.8,919.6 74.5,918.9 76.9,918.4 C79.3,917.9 81.8,917.1 84.2,916.6 C86.6,916.2 89.3,915.7 91.5,915.5 C93.7,915.2 96.4,915.2 97.3,915.2" fill="none" stroke="#000" stroke-width="1.5" stroke-linejoin="round"/>
<path d="M84.2,916.2 C84.8,915.6 86.8,913.9 87.8,912.6 C88.9,911.2 89.8,909.6 90.8,908.2 C91.7,906.7 92.8,905.1 93.7,903.8 C94.5,902.5 95.0,901.6 95.9,900.1 C96.7,898.7 98.3,895.9 98.8,895.0" fill="none" stroke="#000" stroke-width="1.5" stroke-linejoin="round" stroke-dasharray="4,3"/>
<path d="M98.8,894.3 C99.5,894.1 101.7,892.2 103.2,892.8 C104.6,893.5 105.9,897.5 107.6,898.2 C109.3,899.0 111.4,897.8 113.4,897.2 C115.3,896.7 117.0,895.6 119.2,895.0 C121.4,894.5 124.1,894.4 126.5,894.0 C129.0,893.6 131.6,893.2 133.8,892.8 C136.0,892.5 138.2,892.1 139.7,892.1 C141.1,892.1 142.1,892.7 142.6,892.8" fill="none" stroke="#000" stroke-width="1.5" stroke-linejoin="round" stroke-dasharray="6,2.5,1.2,2.5"/>
<path d="M90.0,915.5 C90.8,915.0 93.0,913.5 94.4,912.6 C95.9,911.6 97.1,909.9 98.8,909.6 C100.5,909.4 102.7,911.1 104.6,911.1 C106.6,911.1 108.5,910.2 110.5,909.6 C112.4,909.0 114.6,907.7 116.3,907.4 C118.0,907.2 119.0,907.7 120.7,908.2 C122.4,908.7 124.6,909.8 126.5,910.4 C128.5,911.0 130.4,911.5 132.4,911.8 C134.3,912.1 136.5,912.1 138.2,912.3 C139.9,912.4 141.9,912.7 142.6,912.8" fill="none" stroke="#000" stroke-width="1.5" stroke-linejoin="round" stroke-dasharray="6,2.5,1.2,2.5"/>
<path d="M266.0,734.8 H285.0" stroke="#C0504D" stroke-width="1.5"/>
<text x="287.1" y="737.9" font-size="8.6" text-anchor="start" font-weight="normal" font-family="Liberation Sans, sans-serif" stroke="#000" stroke-width="0.35">FA-1</text>
<path d="M266.0,748.8 H285.0" stroke="#C0504D" stroke-width="1.5" stroke-dasharray="5,4.5"/>
<text x="287.1" y="751.9" font-size="8.6" text-anchor="start" font-weight="normal" font-family="Liberation Sans, sans-serif" stroke="#000" stroke-width="0.35">FA-2</text>
<path d="M266.0,762.5 H285.0" stroke="#C0504D" stroke-width="1.5" stroke-dasharray="11,5,1,20"/>
<text x="287.1" y="765.6" font-size="8.6" text-anchor="start" font-weight="normal" font-family="Liberation Sans, sans-serif" stroke="#000" stroke-width="0.35">FA-3</text>
<path d="M266.0,776.1 H285.0" stroke="#000" stroke-width="1.6"/>
<text x="287.1" y="779.2" font-size="8.6" text-anchor="start" font-weight="normal" font-family="Liberation Sans, sans-serif" stroke="#000" stroke-width="0.35">FB-1</text>
<path d="M266.0,789.9 H285.0" stroke="#000" stroke-width="1.6" stroke-dasharray="5,4.5"/>
<text x="287.1" y="793.0" font-size="8.6" text-anchor="start" font-weight="normal" font-family="Liberation Sans, sans-serif" stroke="#000" stroke-width="0.35">FB-2</text>
<path d="M266.0,803.7 H285.0" stroke="#000" stroke-width="1.6" stroke-dasharray="11,5,1,20"/>
<text x="287.1" y="806.8" font-size="8.6" text-anchor="start" font-weight="normal" font-family="Liberation Sans, sans-serif" stroke="#000" stroke-width="0.35">FB-3</text>
<path d="M266.0,837.0 H285.0" stroke="#C0504D" stroke-width="1.5"/>
<text x="287.1" y="840.1" font-size="8.6" text-anchor="start" font-weight="normal" font-family="Liberation Sans, sans-serif" stroke="#000" stroke-width="0.35">SA-1</text>
<path d="M266.0,849.1 H285.0" stroke="#C0504D" stroke-width="1.5" stroke-dasharray="5,4.5"/>
<text x="287.1" y="852.2" font-size="8.6" text-anchor="start" font-weight="normal" font-family="Liberation Sans, sans-serif" stroke="#000" stroke-width="0.35">SA-2</text>
<path d="M266.0,861.0 H285.0" stroke="#C0504D" stroke-width="1.5" stroke-dasharray="4.7,4.6,1,4.6"/>
<text x="287.1" y="864.1" font-size="8.6" text-anchor="start" font-weight="normal" font-family="Liberation Sans, sans-serif" stroke="#000" stroke-width="0.35">SA-3</text>
<path d="M266.0,872.9 H285.0" stroke="#C0504D" stroke-width="1.5" stroke-dasharray="11,5,1,20"/>
<text x="287.1" y="876.0" font-size="8.6" text-anchor="start" font-weight="normal" font-family="Liberation Sans, sans-serif" stroke="#000" stroke-width="0.35">SA-4</text>
<path d="M266.0,884.8 H285.0" stroke="#000" stroke-width="1.6"/>
<text x="287.1" y="887.9" font-size="8.6" text-anchor="start" font-weight="normal" font-family="Liberation Sans, sans-serif" stroke="#000" stroke-width="0.35">SB-1</text>
<path d="M266.0,897.0 H285.0" stroke="#000" stroke-width="1.6" stroke-dasharray="5,4.5"/>
<text x="287.1" y="900.1" font-size="8.6" text-anchor="start" font-weight="normal" font-family="Liberation Sans, sans-serif" stroke="#000" stroke-width="0.35">SB-2</text>
<path d="M266.0,908.9 H285.0" stroke="#000" stroke-width="1.6" stroke-dasharray="11,5,1,20"/>
<text x="287.1" y="912.0" font-size="8.6" text-anchor="start" font-weight="normal" font-family="Liberation Sans, sans-serif" stroke="#000" stroke-width="0.35">SB-3</text>
<path d="M266.0,921.3 H285.0" stroke="#000" stroke-width="1.6" stroke-dasharray="11,5,1,20"/>
<text x="287.1" y="924.4" font-size="8.6" text-anchor="start" font-weight="normal" font-family="Liberation Sans, sans-serif" stroke="#000" stroke-width="0.35">SB-4</text>
<text x="137.6" y="959.7" font-size="14" text-anchor="start" font-weight="bold" font-family="Liberation Sans, sans-serif">c</text>
<text x="153.5" y="959.7" font-size="16.3" font-family="Liberation Serif, serif" stroke="#000" stroke-width="0.2" textLength="30.3" lengthAdjust="spacingAndGlyphs">SP-3</text>
<path d="M427.7,9.9 V91.4 H614.3" fill="none" stroke="#000" stroke-width="1.6"/>
<path d="M424.2,91.4 H427.7" stroke="#000" stroke-width="1.4"/>
<text transform="translate(418.6,94.7) scale(0.9,1)" font-size="9.4" text-anchor="end" font-family="Liberation Sans, sans-serif" stroke="#000" stroke-width="0.4">0</text>
<path d="M424.2,68.7 H427.7" stroke="#000" stroke-width="1.4"/>
<text transform="translate(418.6,72.0) scale(0.9,1)" font-size="9.4" text-anchor="end" font-family="Liberation Sans, sans-serif" stroke="#000" stroke-width="0.4">500</text>
<path d="M424.2,45.9 H427.7" stroke="#000" stroke-width="1.4"/>
<text transform="translate(418.6,49.2) scale(0.9,1)" font-size="9.4" text-anchor="end" font-family="Liberation Sans, sans-serif" stroke="#000" stroke-width="0.4">1000</text>
<path d="M424.2,23.2 H427.7" stroke="#000" stroke-width="1.4"/>
<text transform="translate(418.6,26.5) scale(0.9,1)" font-size="9.4" text-anchor="end" font-family="Liberation Sans, sans-serif" stroke="#000" stroke-width="0.4">1500</text>
<path d="M427.7,91.4 V94.6" stroke="#000" stroke-width="1.4"/>
<text transform="translate(427.7,107.0) scale(0.9,1)" font-size="9.1" text-anchor="middle" font-family="Liberation Sans, sans-serif" stroke="#000" stroke-width="0.4">0</text>
<path d="M469.1,91.4 V94.6" stroke="#000" stroke-width="1.4"/>
<text transform="translate(469.1,107.0) scale(0.9,1)" font-size="9.1" text-anchor="middle" font-family="Liberation Sans, sans-serif" stroke="#000" stroke-width="0.4">10</text>
<path d="M510.6,91.4 V94.6" stroke="#000" stroke-width="1.4"/>
<text transform="translate(510.6,107.0) scale(0.9,1)" font-size="9.1" text-anchor="middle" font-family="Liberation Sans, sans-serif" stroke="#000" stroke-width="0.4">20</text>
<path d="M552.0,91.4 V94.6" stroke="#000" stroke-width="1.4"/>
<text transform="translate(552.0,107.0) scale(0.9,1)" font-size="9.1" text-anchor="middle" font-family="Liberation Sans, sans-serif" stroke="#000" stroke-width="0.4">30</text>
<path d="M593.5,91.4 V94.6" stroke="#000" stroke-width="1.4"/>
<text transform="translate(593.5,107.0) scale(0.9,1)" font-size="9.1" text-anchor="middle" font-family="Liberation Sans, sans-serif" stroke="#000" stroke-width="0.4">40</text>
<text transform="translate(387.3,50.6) rotate(-90)" x="0" y="4.5" font-size="12.5" font-weight="bold" text-anchor="middle" font-family="Liberation Sans, sans-serif">kN</text>
<text x="521.7" y="120.0" font-size="10.8" text-anchor="middle" font-weight="bold" font-family="Liberation Sans, sans-serif" textLength="111" lengthAdjust="spacingAndGlyphs">Center deflection (mm)</text>
<path d="M428.0,126.3 V208.9 H615.3" fill="none" stroke="#000" stroke-width="1.6"/>
<path d="M424.5,208.9 H428.0" stroke="#000" stroke-width="1.4"/>
<text transform="translate(418.8,212.2) scale(0.9,1)" font-size="9.4" text-anchor="end" font-family="Liberation Sans, sans-serif" stroke="#000" stroke-width="0.4">0</text>
<path d="M424.5,188.3 H428.0" stroke="#000" stroke-width="1.4"/>
<text transform="translate(418.8,191.6) scale(0.9,1)" font-size="9.4" text-anchor="end" font-family="Liberation Sans, sans-serif" stroke="#000" stroke-width="0.4">0.5</text>
<path d="M424.5,167.7 H428.0" stroke="#000" stroke-width="1.4"/>
<text transform="translate(418.8,171.0) scale(0.9,1)" font-size="9.4" text-anchor="end" font-family="Liberation Sans, sans-serif" stroke="#000" stroke-width="0.4">1</text>
<path d="M424.5,147.1 H428.0" stroke="#000" stroke-width="1.4"/>
<text transform="translate(418.8,150.4) scale(0.9,1)" font-size="9.4" text-anchor="end" font-family="Liberation Sans, sans-serif" stroke="#000" stroke-width="0.4">1.5</text>
<path d="M424.5,126.5 H428.0" stroke="#000" stroke-width="1.4"/>
<text transform="translate(418.8,129.8) scale(0.9,1)" font-size="9.4" text-anchor="end" font-family="Liberation Sans, sans-serif" stroke="#000" stroke-width="0.4">2</text>
<path d="M428.0,208.9 V212.1" stroke="#000" stroke-width="1.4"/>
<text transform="translate(428.0,224.5) scale(0.9,1)" font-size="9.1" text-anchor="middle" font-family="Liberation Sans, sans-serif" stroke="#000" stroke-width="0.4">0</text>
<path d="M469.6,208.9 V212.1" stroke="#000" stroke-width="1.4"/>
<text transform="translate(469.6,224.5) scale(0.9,1)" font-size="9.1" text-anchor="middle" font-family="Liberation Sans, sans-serif" stroke="#000" stroke-width="0.4">10</text>
<path d="M511.2,208.9 V212.1" stroke="#000" stroke-width="1.4"/>
<text transform="translate(511.2,224.5) scale(0.9,1)" font-size="9.1" text-anchor="middle" font-family="Liberation Sans, sans-serif" stroke="#000" stroke-width="0.4">20</text>
<path d="M552.8,208.9 V212.1" stroke="#000" stroke-width="1.4"/>
<text transform="translate(552.8,224.5) scale(0.9,1)" font-size="9.1" text-anchor="middle" font-family="Liberation Sans, sans-serif" stroke="#000" stroke-width="0.4">30</text>
<path d="M594.4,208.9 V212.1" stroke="#000" stroke-width="1.4"/>
<text transform="translate(594.4,224.5) scale(0.9,1)" font-size="9.1" text-anchor="middle" font-family="Liberation Sans, sans-serif" stroke="#000" stroke-width="0.4">40</text>
<text transform="translate(397.0,167.9) rotate(-90)" x="0" y="4" font-size="12" text-anchor="middle" stroke="#000" stroke-width="0.45" font-family="Liberation Sans, sans-serif">ε<tspan font-size="8" dy="2.6">s</tspan><tspan dy="-2.6">/ε</tspan><tspan font-size="8" dy="2.6">y</tspan></text>
<text x="593.8" y="206.4" font-size="10.2" text-anchor="start" font-weight="normal" font-family="Liberation Sans, sans-serif" textLength="34" lengthAdjust="spacingAndGlyphs" stroke="#000" stroke-width="0.3">δ (mm)</text>
<path d="M424.2,39.2 H451.0 V209.0" fill="none" stroke="#4F81BD" stroke-width="1.3" stroke-dasharray="4.2,3"/>
<path d="M427.3,91.3 L429.3,85.5 L431.7,79.6 L434.6,73.2 L437.5,66.5 L441.0,59.2 L444.8,51.0 L448.3,44.0 L450.7,38.8 L451.5,40.2 L452.7,44.6 L454.5,48.1 L456.5,49.0 L458.0,49.9 L460.9,52.8 L465.3,53.4 L469.6,54.8 L472.6,56.9 L474.9,59.2 L476.9,60.7 L481.3,61.2 L487.2,62.7 L495.9,62.7 L507.6,62.1 L519.3,61.2 L530.9,60.1 L542.6,59.2 L552.8,58.3 L552.0,60.7 L548.5,64.5 L542.6,69.4 L533.9,75.3 L525.1,79.6 L516.4,83.4 L507.6,87.2 L498.8,90.4 L494.5,91.9" fill="none" stroke="#000" stroke-width="2.5" stroke-linejoin="round" stroke-linecap="butt"/>
<path d="M433.8,209.3 C434.7,208.7 437.9,207.3 439.6,205.9 C441.3,204.5 442.5,202.4 444.0,200.8 C445.4,199.2 447.1,197.5 448.4,196.4 C449.6,195.3 450.3,194.4 451.3,194.2 C452.3,194.1 453.2,195.3 454.2,195.7 C455.2,196.1 456.1,196.9 457.1,196.4 C458.1,195.9 458.8,193.8 460.0,192.8 C461.3,191.7 463.0,191.0 464.4,190.1 C465.9,189.3 467.7,188.7 468.8,187.7 C469.9,186.6 470.3,186.3 471.0,184.0 C471.7,181.7 472.4,177.0 473.2,173.8 C473.9,170.6 474.5,167.6 475.4,165.0 C476.2,162.5 476.9,160.5 478.3,158.5 C479.6,156.4 481.6,153.8 483.4,152.6 C485.2,151.4 486.8,151.7 489.2,151.2 C491.7,150.7 494.7,150.1 498.0,149.7 C501.3,149.3 505.5,148.9 508.8,148.8 C512.1,148.8 514.6,149.0 517.6,149.3 C520.5,149.6 523.4,150.1 526.3,150.6 C529.2,151.0 532.0,151.5 534.9,151.9 C537.8,152.3 540.7,152.6 543.8,153.1 C546.9,153.5 551.9,154.3 553.5,154.5" fill="none" stroke="#C0504D" stroke-width="1.4" stroke-linejoin="round"/>
<path d="M436.7,209.3 C437.4,208.5 439.6,206.0 441.1,204.5 C442.5,202.9 444.0,201.4 445.4,200.1 C446.9,198.7 448.4,197.2 449.8,196.4 C451.3,195.7 452.7,195.5 454.2,195.7 C455.7,195.9 457.6,198.4 458.6,197.9 C459.5,197.4 459.1,194.1 460.0,192.8 C461.0,191.5 463.0,191.0 464.4,190.1 C465.9,189.3 467.6,188.7 468.8,187.7 C470.0,186.6 470.7,185.8 471.7,184.0 C472.7,182.2 473.4,179.1 474.6,176.7 C475.9,174.3 477.6,171.6 479.0,169.4 C480.5,167.2 481.7,165.4 483.4,163.6 C485.1,161.8 487.3,160.0 489.2,158.5 C491.2,156.9 493.3,155.5 495.1,154.1 C496.9,152.6 497.7,150.8 500.0,149.7 C502.3,148.6 506.6,148.0 508.8,147.5 C511.0,147.0 510.8,146.7 513.0,146.6 C515.2,146.5 519.0,146.8 521.9,146.9 C524.9,147.1 527.8,147.2 530.7,147.4 C533.6,147.5 536.1,147.7 539.5,148.0 C542.8,148.2 548.9,148.7 550.8,148.8" fill="none" stroke="#C0504D" stroke-width="1.4" stroke-linejoin="round" stroke-dasharray="4,3"/>
<path d="M471.7,184.7 C472.4,183.9 474.4,181.2 476.1,179.6 C477.8,178.1 480.0,176.3 481.9,175.3 C483.9,174.2 485.8,173.6 487.8,173.5 C489.7,173.4 491.2,174.0 493.6,174.5 C496.0,175.1 499.7,176.3 502.2,176.9 C504.8,177.5 506.2,177.7 508.8,178.2 C511.4,178.7 514.6,179.4 517.6,179.9 C520.5,180.4 523.4,180.7 526.3,181.2 C529.2,181.8 532.0,182.4 534.9,183.0 C537.8,183.6 541.0,184.3 543.8,184.7 C546.6,185.2 550.4,185.5 551.7,185.6" fill="none" stroke="#C0504D" stroke-width="1.4" stroke-linejoin="round" stroke-dasharray="6,2.5,1.2,2.5"/>
<path d="M427.9,209.3 C428.4,208.8 429.6,208.2 430.8,206.6 C432.1,205.1 433.8,201.9 435.2,200.1 C436.7,198.2 438.1,197.0 439.6,195.7 C441.1,194.4 442.5,193.3 444.0,192.0 C445.4,190.8 447.3,189.2 448.4,188.4 C449.5,187.6 449.9,187.5 450.5,187.4 C451.2,187.3 451.5,187.3 452.0,187.7 C452.5,188.1 452.9,189.4 453.5,189.9 C454.1,190.3 454.8,190.5 455.7,190.6 C456.5,190.7 457.4,190.7 458.6,190.6 C459.8,190.5 461.5,190.0 463.0,189.9 C464.4,189.7 466.1,189.6 467.3,189.6 C468.6,189.6 469.3,189.6 470.3,189.9 C471.2,190.1 472.0,190.7 473.2,191.0 C474.4,191.3 475.9,191.5 477.6,191.6 C479.3,191.7 481.4,191.7 483.4,191.6 C485.3,191.5 486.5,191.3 489.2,191.0 C492.0,190.8 496.8,190.5 500.0,190.1 C503.3,189.8 505.9,189.1 508.8,188.7 C511.7,188.2 514.6,187.8 517.6,187.4 C520.5,186.9 523.4,186.5 526.3,186.1 C529.2,185.6 532.0,185.1 534.9,184.7 C537.8,184.4 540.7,184.2 543.8,183.9 C546.9,183.5 551.9,182.9 553.5,182.7" fill="none" stroke="#000" stroke-width="1.5" stroke-linejoin="round"/>
<path d="M430.8,208.8 C431.6,207.6 433.8,203.5 435.2,201.5 C436.7,199.6 438.1,198.6 439.6,197.2 C441.1,195.7 442.5,194.3 444.0,193.1 C445.4,191.8 447.1,190.4 448.4,189.6 C449.6,188.7 450.3,188.1 451.3,188.1 C452.3,188.2 452.7,189.4 454.2,189.9 C455.7,190.3 457.6,191.0 460.0,191.0 C462.5,191.1 465.9,190.1 468.8,190.1 C471.7,190.2 474.6,191.1 477.6,191.3 C480.5,191.5 483.4,191.6 486.3,191.3 C489.2,191.1 492.2,190.3 495.1,189.9 C498.0,189.4 500.9,188.9 503.8,188.4 C506.8,187.9 509.1,187.5 512.6,186.9 C516.1,186.4 521.3,185.7 525.0,185.2 C528.7,184.7 531.8,184.4 534.9,184.0 C538.1,183.6 540.7,183.2 543.8,182.8 C546.9,182.5 551.9,182.0 553.5,181.8" fill="none" stroke="#000" stroke-width="1.5" stroke-linejoin="round" stroke-dasharray="4,3"/>
<path d="M512.6,187.2 C513.8,187.0 517.6,186.3 519.9,185.8 C522.2,185.3 524.1,184.9 526.3,184.3 C528.6,183.7 531.4,182.8 533.3,182.1 C535.2,181.4 536.4,180.8 537.7,179.9 C539.0,179.1 539.9,177.9 541.2,176.9 C542.5,175.8 543.5,175.1 545.4,173.8 C547.3,172.5 551.4,169.8 552.6,169.0" fill="none" stroke="#000" stroke-width="1.5" stroke-linejoin="round" stroke-dasharray="6,2.5,1.2,2.5"/>
<path d="M632.0,135.5 H650.3" stroke="#C0504D" stroke-width="1.5"/>
<text x="655.6" y="138.6" font-size="8.6" text-anchor="start" font-weight="normal" font-family="Liberation Sans, sans-serif" stroke="#000" stroke-width="0.35">FA-1</text>
<path d="M632.0,151.0 H650.3" stroke="#C0504D" stroke-width="1.5" stroke-dasharray="5,4.5"/>
<text x="655.6" y="154.1" font-size="8.6" text-anchor="start" font-weight="normal" font-family="Liberation Sans, sans-serif" stroke="#000" stroke-width="0.35">FA-2</text>
<path d="M632.0,166.5 H650.3" stroke="#C0504D" stroke-width="1.5" stroke-dasharray="5,3.5,1,3.5"/>
<text x="655.6" y="169.6" font-size="8.6" text-anchor="start" font-weight="normal" font-family="Liberation Sans, sans-serif" stroke="#000" stroke-width="0.35">FA-3</text>
<path d="M632.0,181.8 H650.3" stroke="#000" stroke-width="1.6"/>
<text x="655.6" y="184.9" font-size="8.6" text-anchor="start" font-weight="normal" font-family="Liberation Sans, sans-serif" stroke="#000" stroke-width="0.35">FB-1</text>
<path d="M632.0,197.8 H650.3" stroke="#000" stroke-width="1.6" stroke-dasharray="5,4.5"/>
<text x="655.6" y="200.9" font-size="8.6" text-anchor="start" font-weight="normal" font-family="Liberation Sans, sans-serif" stroke="#000" stroke-width="0.35">FB-2</text>
<path d="M632.0,213.1 H650.3" stroke="#000" stroke-width="1.6" stroke-dasharray="5,3.5,1,3.5"/>
<text x="655.6" y="216.2" font-size="8.6" text-anchor="start" font-weight="normal" font-family="Liberation Sans, sans-serif" stroke="#000" stroke-width="0.35">FB-3</text>
<text x="505.3" y="247.8" font-size="14" text-anchor="start" font-weight="bold" font-family="Liberation Sans, sans-serif">d</text>
<text x="522.1" y="247.8" font-size="16.3" font-family="Liberation Serif, serif" stroke="#000" stroke-width="0.2" textLength="30.3" lengthAdjust="spacingAndGlyphs">SP-4</text>
<path d="M428.0,260.8 V342.3 H614.3" fill="none" stroke="#000" stroke-width="1.6"/>
<path d="M424.5,342.3 H428.0" stroke="#000" stroke-width="1.4"/>
<text transform="translate(418.6,345.6) scale(0.9,1)" font-size="9.4" text-anchor="end" font-family="Liberation Sans, sans-serif" stroke="#000" stroke-width="0.4">0</text>
<path d="M424.5,319.6 H428.0" stroke="#000" stroke-width="1.4"/>
<text transform="translate(418.6,322.9) scale(0.9,1)" font-size="9.4" text-anchor="end" font-family="Liberation Sans, sans-serif" stroke="#000" stroke-width="0.4">500</text>
<path d="M424.5,296.8 H428.0" stroke="#000" stroke-width="1.4"/>
<text transform="translate(418.6,300.1) scale(0.9,1)" font-size="9.4" text-anchor="end" font-family="Liberation Sans, sans-serif" stroke="#000" stroke-width="0.4">1000</text>
<path d="M424.5,274.1 H428.0" stroke="#000" stroke-width="1.4"/>
<text transform="translate(418.6,277.4) scale(0.9,1)" font-size="9.4" text-anchor="end" font-family="Liberation Sans, sans-serif" stroke="#000" stroke-width="0.4">1500</text>
<path d="M428.0,342.3 V345.5" stroke="#000" stroke-width="1.4"/>
<text transform="translate(428.0,357.9) scale(0.9,1)" font-size="9.1" text-anchor="middle" font-family="Liberation Sans, sans-serif" stroke="#000" stroke-width="0.4">0</text>
<path d="M469.4,342.3 V345.5" stroke="#000" stroke-width="1.4"/>
<text transform="translate(469.4,357.9) scale(0.9,1)" font-size="9.1" text-anchor="middle" font-family="Liberation Sans, sans-serif" stroke="#000" stroke-width="0.4">10</text>
<path d="M510.9,342.3 V345.5" stroke="#000" stroke-width="1.4"/>
<text transform="translate(510.9,357.9) scale(0.9,1)" font-size="9.1" text-anchor="middle" font-family="Liberation Sans, sans-serif" stroke="#000" stroke-width="0.4">20</text>
<path d="M552.4,342.3 V345.5" stroke="#000" stroke-width="1.4"/>
<text transform="translate(552.4,357.9) scale(0.9,1)" font-size="9.1" text-anchor="middle" font-family="Liberation Sans, sans-serif" stroke="#000" stroke-width="0.4">30</text>
<path d="M593.8,342.3 V345.5" stroke="#000" stroke-width="1.4"/>
<text transform="translate(593.8,357.9) scale(0.9,1)" font-size="9.1" text-anchor="middle" font-family="Liberation Sans, sans-serif" stroke="#000" stroke-width="0.4">40</text>
<text transform="translate(387.3,301.5) rotate(-90)" x="0" y="4.5" font-size="12.5" font-weight="bold" text-anchor="middle" font-family="Liberation Sans, sans-serif">kN</text>
<text x="521.7" y="370.9" font-size="10.8" text-anchor="middle" font-weight="bold" font-family="Liberation Sans, sans-serif" textLength="111" lengthAdjust="spacingAndGlyphs">Center deflection (mm)</text>
<path d="M427.5,376.8 V459.4 H615.3" fill="none" stroke="#000" stroke-width="1.6"/>
<path d="M424.0,459.4 H427.5" stroke="#000" stroke-width="1.4"/>
<text transform="translate(418.0,462.7) scale(0.9,1)" font-size="9.4" text-anchor="end" font-family="Liberation Sans, sans-serif" stroke="#000" stroke-width="0.4">0</text>
<path d="M424.0,438.8 H427.5" stroke="#000" stroke-width="1.4"/>
<text transform="translate(418.0,442.1) scale(0.9,1)" font-size="9.4" text-anchor="end" font-family="Liberation Sans, sans-serif" stroke="#000" stroke-width="0.4">0.5</text>
<path d="M424.0,418.2 H427.5" stroke="#000" stroke-width="1.4"/>
<text transform="translate(418.0,421.5) scale(0.9,1)" font-size="9.4" text-anchor="end" font-family="Liberation Sans, sans-serif" stroke="#000" stroke-width="0.4">1</text>
<path d="M424.0,397.6 H427.5" stroke="#000" stroke-width="1.4"/>
<text transform="translate(418.0,400.9) scale(0.9,1)" font-size="9.4" text-anchor="end" font-family="Liberation Sans, sans-serif" stroke="#000" stroke-width="0.4">1.5</text>
<path d="M424.0,377.0 H427.5" stroke="#000" stroke-width="1.4"/>
<text transform="translate(418.0,380.3) scale(0.9,1)" font-size="9.4" text-anchor="end" font-family="Liberation Sans, sans-serif" stroke="#000" stroke-width="0.4">2</text>
<path d="M427.5,459.4 V462.6" stroke="#000" stroke-width="1.4"/>
<text transform="translate(427.5,475.0) scale(0.9,1)" font-size="9.1" text-anchor="middle" font-family="Liberation Sans, sans-serif" stroke="#000" stroke-width="0.4">0</text>
<path d="M469.2,459.4 V462.6" stroke="#000" stroke-width="1.4"/>
<text transform="translate(469.2,475.0) scale(0.9,1)" font-size="9.1" text-anchor="middle" font-family="Liberation Sans, sans-serif" stroke="#000" stroke-width="0.4">10</text>
<path d="M510.9,459.4 V462.6" stroke="#000" stroke-width="1.4"/>
<text transform="translate(510.9,475.0) scale(0.9,1)" font-size="9.1" text-anchor="middle" font-family="Liberation Sans, sans-serif" stroke="#000" stroke-width="0.4">20</text>
<path d="M552.6,459.4 V462.6" stroke="#000" stroke-width="1.4"/>
<text transform="translate(552.6,475.0) scale(0.9,1)" font-size="9.1" text-anchor="middle" font-family="Liberation Sans, sans-serif" stroke="#000" stroke-width="0.4">30</text>
<path d="M594.3,459.4 V462.6" stroke="#000" stroke-width="1.4"/>
<text transform="translate(594.3,475.0) scale(0.9,1)" font-size="9.1" text-anchor="middle" font-family="Liberation Sans, sans-serif" stroke="#000" stroke-width="0.4">40</text>
<text transform="translate(397.0,418.4) rotate(-90)" x="0" y="4" font-size="12" text-anchor="middle" stroke="#000" stroke-width="0.45" font-family="Liberation Sans, sans-serif">ε<tspan font-size="8" dy="2.6">s</tspan><tspan dy="-2.6">/ε</tspan><tspan font-size="8" dy="2.6">y</tspan></text>
<text x="593.8" y="456.9" font-size="10.2" text-anchor="start" font-weight="normal" font-family="Liberation Sans, sans-serif" textLength="34" lengthAdjust="spacingAndGlyphs" stroke="#000" stroke-width="0.3">δ (mm)</text>
<path d="M427.5,482.0 V564.6 H615.3" fill="none" stroke="#000" stroke-width="1.6"/>
<path d="M424.0,564.6 H427.5" stroke="#000" stroke-width="1.4"/>
<text transform="translate(418.2,567.9) scale(0.9,1)" font-size="9.4" text-anchor="end" font-family="Liberation Sans, sans-serif" stroke="#000" stroke-width="0.4">0</text>
<path d="M424.0,544.0 H427.5" stroke="#000" stroke-width="1.4"/>
<text transform="translate(418.2,547.3) scale(0.9,1)" font-size="9.4" text-anchor="end" font-family="Liberation Sans, sans-serif" stroke="#000" stroke-width="0.4">0.5</text>
<path d="M424.0,523.4 H427.5" stroke="#000" stroke-width="1.4"/>
<text transform="translate(418.2,526.7) scale(0.9,1)" font-size="9.4" text-anchor="end" font-family="Liberation Sans, sans-serif" stroke="#000" stroke-width="0.4">1</text>
<path d="M424.0,502.8 H427.5" stroke="#000" stroke-width="1.4"/>
<text transform="translate(418.2,506.1) scale(0.9,1)" font-size="9.4" text-anchor="end" font-family="Liberation Sans, sans-serif" stroke="#000" stroke-width="0.4">1.5</text>
<path d="M424.0,482.2 H427.5" stroke="#000" stroke-width="1.4"/>
<text transform="translate(418.2,485.5) scale(0.9,1)" font-size="9.4" text-anchor="end" font-family="Liberation Sans, sans-serif" stroke="#000" stroke-width="0.4">2</text>
<path d="M427.5,564.6 V567.8" stroke="#000" stroke-width="1.4"/>
<text transform="translate(427.5,580.2) scale(0.9,1)" font-size="9.1" text-anchor="middle" font-family="Liberation Sans, sans-serif" stroke="#000" stroke-width="0.4">0</text>
<path d="M469.2,564.6 V567.8" stroke="#000" stroke-width="1.4"/>
<text transform="translate(469.2,580.2) scale(0.9,1)" font-size="9.1" text-anchor="middle" font-family="Liberation Sans, sans-serif" stroke="#000" stroke-width="0.4">10</text>
<path d="M510.9,564.6 V567.8" stroke="#000" stroke-width="1.4"/>
<text transform="translate(510.9,580.2) scale(0.9,1)" font-size="9.1" text-anchor="middle" font-family="Liberation Sans, sans-serif" stroke="#000" stroke-width="0.4">20</text>
<path d="M552.6,564.6 V567.8" stroke="#000" stroke-width="1.4"/>
<text transform="translate(552.6,580.2) scale(0.9,1)" font-size="9.1" text-anchor="middle" font-family="Liberation Sans, sans-serif" stroke="#000" stroke-width="0.4">30</text>
<path d="M594.3,564.6 V567.8" stroke="#000" stroke-width="1.4"/>
<text transform="translate(594.3,580.2) scale(0.9,1)" font-size="9.1" text-anchor="middle" font-family="Liberation Sans, sans-serif" stroke="#000" stroke-width="0.4">40</text>
<text transform="translate(397.0,523.6) rotate(-90)" x="0" y="4" font-size="12" text-anchor="middle" stroke="#000" stroke-width="0.45" font-family="Liberation Sans, sans-serif">ε<tspan font-size="8" dy="2.6">s</tspan><tspan dy="-2.6">/ε</tspan><tspan font-size="8" dy="2.6">y</tspan></text>
<text x="593.8" y="562.1" font-size="10.2" text-anchor="start" font-weight="normal" font-family="Liberation Sans, sans-serif" textLength="34" lengthAdjust="spacingAndGlyphs" stroke="#000" stroke-width="0.3">δ (mm)</text>
<path d="M423.7,277.0 H458.6 V564.6" fill="none" stroke="#FF0000" stroke-width="1.3" stroke-dasharray="4.2,3"/>
<path d="M423.7,289.4 H449.1 V564.6" fill="none" stroke="#4F81BD" stroke-width="1.3" stroke-dasharray="4.2,3"/>
<path d="M428.2,341.5 L431.7,332.8 L436.1,322.6 L440.4,312.3 L444.8,302.1 L447.7,294.8 L450.7,288.1 L453.6,283.1 L456.5,278.8 L458.5,276.4 L460.3,278.8 L462.3,281.1 L463.8,283.1 L465.3,286.1 L466.7,289.9 L468.2,291.9 L471.1,292.8 L474.0,293.9 L478.4,295.7 L484.2,296.9 L493.0,297.2 L501.8,297.4 L510.5,298.3 L519.3,299.2 L530.9,299.8 L542.6,300.1 L552.8,299.8 L553.4,302.1 L551.4,306.5 L548.5,312.3 L544.1,318.2 L538.2,324.0 L530.9,329.0 L522.2,333.6 L513.4,337.2 L504.7,340.1 L497.4,341.8" fill="none" stroke="#000" stroke-width="2.5" stroke-linejoin="round" stroke-linecap="butt"/>
<path d="M435.2,459.6 C435.9,459.0 437.9,457.5 439.6,455.9 C441.3,454.3 443.5,451.8 445.4,450.1 C447.4,448.4 449.3,446.9 451.3,445.7 C453.2,444.5 455.4,443.2 457.1,443.1 C458.8,442.9 460.0,444.4 461.5,445.0 C463.0,445.5 464.4,446.0 465.9,446.4 C467.3,446.8 469.2,447.2 470.3,447.4 C471.4,447.7 471.7,448.4 472.4,447.9 C473.2,447.3 473.3,445.3 474.6,444.2 C476.0,443.1 478.5,442.2 480.5,441.3 C482.4,440.5 484.9,439.6 486.3,439.1 C487.8,438.6 488.6,440.9 489.2,438.4 C489.8,435.8 489.7,428.1 490.0,423.8 C490.2,419.5 490.1,414.4 490.7,412.8 C491.3,411.3 492.4,413.8 493.6,414.3 C494.8,414.8 496.3,415.8 498.0,415.8 C499.7,415.8 501.9,414.8 503.8,414.3 C505.8,413.8 507.7,413.3 509.7,412.8 C511.6,412.4 513.6,411.9 515.5,411.4 C517.5,410.9 523.9,409.4 521.4,409.9 C518.8,410.5 502.3,414.2 500.0,414.8 C497.7,415.4 505.1,413.9 507.6,413.4 C510.2,412.9 512.8,412.7 515.3,412.0 C517.8,411.3 520.4,409.8 522.9,409.1 C525.4,408.4 528.0,408.3 530.5,407.7 C533.0,407.1 536.0,405.9 538.2,405.3 C540.4,404.7 542.3,404.2 543.9,403.9 C545.5,403.6 546.9,404.0 547.7,403.6 C548.5,403.2 548.4,403.9 548.7,401.5 C549.0,399.1 549.3,392.1 549.6,389.1 C549.9,386.2 550.1,385.0 550.6,383.8 C551.1,382.6 552.5,382.2 552.9,381.9" fill="none" stroke="#C0504D" stroke-width="1.4" stroke-linejoin="round"/>
<path d="M433.8,459.6 C435.0,458.7 438.9,456.2 441.1,454.5 C443.2,452.7 445.0,450.9 446.9,449.3 C448.8,447.8 451.0,446.1 452.7,445.0 C454.4,443.9 455.7,442.9 457.1,442.8 C458.6,442.7 460.0,443.7 461.5,444.2 C463.0,444.7 464.2,445.0 465.9,445.7 C467.6,446.4 469.8,448.1 471.7,448.6 C473.7,449.1 475.1,448.8 477.6,448.6 C480.0,448.4 483.4,447.8 486.3,447.4 C489.2,447.1 492.2,446.8 495.1,446.4 C498.0,446.1 501.4,445.8 503.8,445.4 C506.2,445.0 507.0,444.4 509.5,443.9 C512.0,443.4 515.9,443.1 519.1,442.5 C522.3,441.9 525.4,440.9 528.6,440.1 C531.8,439.3 535.8,438.5 538.2,437.7 C540.6,436.9 541.3,436.0 542.9,435.3 C544.5,434.6 546.1,433.7 547.7,433.4 C549.3,433.1 551.7,433.6 552.5,433.7" fill="none" stroke="#C0504D" stroke-width="1.4" stroke-linejoin="round" stroke-dasharray="4,3"/>
<path d="M438.1,459.6 C439.1,458.6 442.0,455.5 444.0,453.7 C445.9,451.9 447.9,450.1 449.8,448.6 C451.8,447.2 454.2,445.7 455.7,445.0 C457.1,444.2 457.6,443.6 458.6,444.2 C459.5,444.8 460.4,447.0 461.5,448.6 C462.6,450.2 463.9,452.0 465.1,453.7 C466.4,455.4 467.7,458.6 468.8,458.8 C469.9,459.1 470.7,456.3 471.7,455.2 C472.7,454.1 473.4,452.9 474.6,452.3 C475.9,451.7 477.1,451.3 479.0,451.5 C481.0,451.8 483.6,453.0 486.3,453.7 C489.0,454.5 492.2,455.1 495.1,455.9 C498.0,456.8 501.4,458.3 503.8,458.8 C506.2,459.4 507.0,459.1 509.5,459.2 C512.0,459.3 515.9,459.2 519.1,459.2 C522.3,459.2 525.8,459.4 528.6,459.2 C531.5,459.0 533.8,458.6 536.2,458.2 C538.6,457.8 540.7,457.3 542.9,456.8 C545.1,456.3 548.4,455.1 549.6,455.4 C550.8,455.7 550.0,458.1 550.1,458.7" fill="none" stroke="#C0504D" stroke-width="1.4" stroke-linejoin="round" stroke-dasharray="5,2.5,1.2,2.5,1.2,2.5"/>
<path d="M427.2,459.6 C428.0,459.2 430.7,458.7 432.3,457.4 C433.9,456.0 435.2,453.7 436.7,451.5 C438.1,449.3 439.6,446.3 441.1,444.2 C442.5,442.2 443.7,440.7 445.4,439.1 C447.1,437.5 449.6,436.0 451.3,434.7 C453.0,433.5 454.4,432.6 455.7,431.8 C456.9,431.1 457.4,430.4 458.6,430.4 C459.8,430.3 461.6,430.9 463.0,431.4 C464.3,431.9 465.1,432.9 466.6,433.3 C468.1,433.7 469.4,433.7 471.7,433.7 C474.0,433.7 477.6,433.4 480.5,433.3 C483.4,433.1 486.3,433.0 489.2,432.8 C492.2,432.7 495.1,432.7 498.0,432.6 C500.9,432.4 503.8,432.1 506.8,431.8 C509.7,431.5 515.1,430.9 515.5,430.8 C516.0,430.7 508.9,431.6 509.5,431.5 C510.1,431.4 515.9,430.5 519.1,430.1 C522.3,429.7 525.4,429.4 528.6,429.0 C531.8,428.6 535.0,428.1 538.2,427.7 C541.4,427.3 545.2,426.8 547.7,426.5 C550.2,426.2 552.5,426.2 553.4,426.1" fill="none" stroke="#000" stroke-width="1.5" stroke-linejoin="round"/>
<path d="M436.7,454.5 C437.4,453.4 439.6,449.8 441.1,447.9 C442.5,445.9 443.7,444.2 445.4,442.8 C447.1,441.4 449.6,440.5 451.3,439.6 C453.0,438.6 454.4,437.8 455.7,437.2 C456.9,436.7 457.6,436.1 458.6,436.2 C459.5,436.3 460.3,437.1 461.5,437.7 C462.7,438.2 464.4,439.2 465.9,439.6 C467.3,439.9 468.3,439.6 470.3,439.6 C472.2,439.5 474.9,439.2 477.6,439.1 C480.2,439.0 483.6,439.0 486.3,438.8 C489.0,438.7 491.2,438.5 493.6,438.4 C496.0,438.2 498.2,438.2 500.9,438.0 C503.6,437.8 508.2,437.3 509.7,437.2 C511.1,437.2 507.9,437.8 509.5,437.7 C511.1,437.6 515.9,437.2 519.1,436.8 C522.3,436.4 525.4,435.8 528.6,435.3 C531.8,434.8 535.0,434.2 538.2,433.7 C541.4,433.1 545.4,432.4 547.7,432.0 C550.0,431.6 551.3,431.2 552.0,431.1" fill="none" stroke="#000" stroke-width="1.5" stroke-linejoin="round" stroke-dasharray="4,3"/>
<path d="M442.5,447.2 C443.2,446.4 445.2,444.1 446.9,442.8 C448.6,441.4 450.8,440.0 452.7,439.1 C454.7,438.3 456.6,437.5 458.6,437.7 C460.5,437.8 462.7,439.4 464.4,439.9 C466.1,440.3 466.8,440.6 468.8,440.6 C470.7,440.5 473.7,439.8 476.1,439.6 C478.5,439.3 481.0,439.3 483.4,439.1 C485.8,438.9 488.7,438.8 490.7,438.4 C492.6,438.0 493.4,437.9 495.1,436.9 C496.8,436.0 499.0,434.0 500.9,432.6 C502.9,431.1 504.8,429.7 506.8,428.2 C508.7,426.6 510.3,424.8 512.4,423.4 C514.5,422.0 516.7,420.9 519.1,419.6 C521.5,418.3 524.2,416.9 526.7,415.8 C529.2,414.7 531.8,413.8 534.3,412.9 C536.8,411.9 539.8,410.9 542.0,410.1 C544.2,409.3 545.8,408.8 547.7,408.2 C549.6,407.6 552.5,406.9 553.4,406.7" fill="none" stroke="#000" stroke-width="1.5" stroke-linejoin="round" stroke-dasharray="5,2.5,1.2,2.5,1.2,2.5"/>
<path d="M427.2,564.1 C428.8,564.0 434.1,564.1 436.7,563.4 C439.2,562.7 440.6,561.1 442.5,559.8 C444.5,558.4 446.4,556.8 448.4,555.4 C450.3,553.9 452.5,552.1 454.2,551.0 C455.9,549.9 457.1,549.3 458.6,548.8 C460.0,548.3 461.3,548.1 463.0,548.1 C464.7,548.1 466.4,548.7 468.8,548.8 C471.2,548.9 474.6,548.8 477.6,548.8 C480.5,548.9 482.9,549.0 486.3,549.1 C489.7,549.2 494.2,549.2 498.0,549.2 C501.7,549.3 505.5,549.2 508.8,549.3 C512.1,549.4 514.6,549.5 517.5,549.6 C520.4,549.7 523.4,549.7 526.3,549.8 C529.2,549.9 532.1,549.9 535.0,550.0 C537.9,550.1 540.7,550.2 543.8,550.2 C546.9,550.2 551.8,550.2 553.4,550.2" fill="none" stroke="#000" stroke-width="1.5" stroke-linejoin="round"/>
<path d="M454.2,554.6 L458.6,553.6 L463.2,553.5 L464.1,550.3" fill="none" stroke="#000" stroke-width="1.4" stroke-linejoin="round" stroke-linecap="butt"/>
<path d="M438.1,562.7 C438.9,561.9 441.1,560.2 442.5,558.3 C444.0,556.3 445.7,553.2 446.9,551.0 C448.1,548.8 449.0,546.9 449.8,545.2 C450.7,543.5 451.3,542.2 452.0,540.8 C452.7,539.3 453.5,537.7 454.2,536.4 C454.9,535.1 455.8,534.4 456.4,532.7 C457.0,531.0 457.4,529.0 457.8,526.2 C458.3,523.4 458.6,520.1 458.9,516.0 C459.1,511.8 459.2,505.7 459.3,501.4 C459.4,497.0 459.3,491.6 459.3,489.7" fill="none" stroke="#000" stroke-width="1.5" stroke-linejoin="round" stroke-dasharray="2,3"/>
<path d="M444.0,559.8 C445.0,558.8 447.9,555.5 449.8,553.9 C451.8,552.3 453.7,551.7 455.7,550.3 C457.6,548.8 459.5,546.6 461.5,545.2 C463.4,543.7 465.6,543.0 467.3,541.5 C469.0,540.0 470.3,537.9 471.7,536.4 C473.2,534.9 474.6,533.5 476.1,532.7 C477.6,532.0 479.0,531.8 480.5,532.0 C481.9,532.3 483.2,533.2 484.9,534.2 C486.6,535.2 488.7,536.6 490.7,537.9 C492.6,539.1 494.6,540.4 496.5,541.5 C498.5,542.6 500.8,543.8 502.4,544.4 C504.0,545.0 504.4,544.8 506.1,545.0 C507.8,545.2 510.7,545.3 512.7,545.6 C514.8,545.9 516.4,546.2 518.4,546.7 C520.4,547.2 522.6,547.8 524.5,548.5 C526.4,549.2 527.8,549.7 529.8,550.7 C531.8,551.7 534.7,553.4 536.8,554.6 C538.9,555.8 540.8,556.9 542.5,558.1 C544.2,559.3 546.5,561.3 547.3,561.9" fill="none" stroke="#000" stroke-width="1.5" stroke-linejoin="round" stroke-dasharray="5,2.5,1.2,2.5,1.2,2.5"/>
<path d="M446.9,561.2 C447.9,560.2 450.8,557.1 452.7,555.4 C454.7,553.7 456.6,552.7 458.6,551.0 C460.5,549.3 462.5,546.9 464.4,545.2 C466.4,543.5 468.3,541.4 470.3,540.8 C472.2,540.2 474.4,540.9 476.1,541.5 C477.8,542.1 479.3,543.3 480.5,544.4 C481.7,545.5 482.4,546.9 483.4,548.1 C484.4,549.3 485.5,550.3 486.3,551.7 C487.2,553.2 488.0,554.8 488.5,556.8 C489.0,558.9 489.1,562.9 489.2,564.1" fill="none" stroke="#000" stroke-width="1.5" stroke-linejoin="round" stroke-dasharray="6,2.5,1.2,2.5"/>
<path d="M632.0,385.5 H650.3" stroke="#C0504D" stroke-width="1.5"/>
<text x="655.6" y="388.6" font-size="8.6" text-anchor="start" font-weight="normal" font-family="Liberation Sans, sans-serif" stroke="#000" stroke-width="0.35">FA-1</text>
<path d="M632.0,401.0 H650.3" stroke="#C0504D" stroke-width="1.5" stroke-dasharray="5,4.5"/>
<text x="655.6" y="404.1" font-size="8.6" text-anchor="start" font-weight="normal" font-family="Liberation Sans, sans-serif" stroke="#000" stroke-width="0.35">FA-2</text>
<path d="M632.0,416.5 H650.3" stroke="#C0504D" stroke-width="1.5" stroke-dasharray="5,3.5,1,3.5"/>
<text x="655.6" y="419.6" font-size="8.6" text-anchor="start" font-weight="normal" font-family="Liberation Sans, sans-serif" stroke="#000" stroke-width="0.35">FA-3</text>
<path d="M632.0,431.8 H650.3" stroke="#000" stroke-width="1.6"/>
<text x="655.6" y="434.9" font-size="8.6" text-anchor="start" font-weight="normal" font-family="Liberation Sans, sans-serif" stroke="#000" stroke-width="0.35">FB-1</text>
<path d="M632.0,447.8 H650.3" stroke="#000" stroke-width="1.6" stroke-dasharray="5,4.5"/>
<text x="655.6" y="450.9" font-size="8.6" text-anchor="start" font-weight="normal" font-family="Liberation Sans, sans-serif" stroke="#000" stroke-width="0.35">FB-2</text>
<path d="M632.0,463.1 H650.3" stroke="#000" stroke-width="1.6" stroke-dasharray="5,3.5,1,3.5"/>
<text x="655.6" y="466.2" font-size="8.6" text-anchor="start" font-weight="normal" font-family="Liberation Sans, sans-serif" stroke="#000" stroke-width="0.35">FB-3</text>
<path d="M632.0,506.8 H650.3" stroke="#000" stroke-width="1.6"/>
<text x="655.6" y="509.9" font-size="8.6" text-anchor="start" font-weight="normal" font-family="Liberation Sans, sans-serif" stroke="#000" stroke-width="0.35">SA-1</text>
<path d="M632.0,522.2 H650.3" stroke="#000" stroke-width="1.6" stroke-dasharray="5,4.5"/>
<text x="655.6" y="525.3" font-size="8.6" text-anchor="start" font-weight="normal" font-family="Liberation Sans, sans-serif" stroke="#000" stroke-width="0.35">SA-2</text>
<path d="M632.0,537.7 H650.3" stroke="#000" stroke-width="1.6" stroke-dasharray="5,3.5,1,3.5"/>
<text x="655.6" y="540.8" font-size="8.6" text-anchor="start" font-weight="normal" font-family="Liberation Sans, sans-serif" stroke="#000" stroke-width="0.35">SA-3</text>
<path d="M632.0,553.2 H650.3" stroke="#000" stroke-width="1.6" stroke-dasharray="11,5,1,20"/>
<text x="655.6" y="556.3" font-size="8.6" text-anchor="start" font-weight="normal" font-family="Liberation Sans, sans-serif" stroke="#000" stroke-width="0.35">SA-4</text>
<text x="505.3" y="603.8" font-size="14" text-anchor="start" font-weight="bold" font-family="Liberation Sans, sans-serif">e</text>
<text x="521.8" y="603.8" font-size="16.3" font-family="Liberation Serif, serif" stroke="#000" stroke-width="0.2" textLength="30.3" lengthAdjust="spacingAndGlyphs">SP-5</text>
<path d="M427.6,616.5 V698.0 H614.3" fill="none" stroke="#000" stroke-width="1.6"/>
<path d="M424.1,698.0 H427.6" stroke="#000" stroke-width="1.4"/>
<text transform="translate(418.6,701.3) scale(0.9,1)" font-size="9.4" text-anchor="end" font-family="Liberation Sans, sans-serif" stroke="#000" stroke-width="0.4">0</text>
<path d="M424.1,675.2 H427.6" stroke="#000" stroke-width="1.4"/>
<text transform="translate(418.6,678.5) scale(0.9,1)" font-size="9.4" text-anchor="end" font-family="Liberation Sans, sans-serif" stroke="#000" stroke-width="0.4">500</text>
<path d="M424.1,652.5 H427.6" stroke="#000" stroke-width="1.4"/>
<text transform="translate(418.6,655.8) scale(0.9,1)" font-size="9.4" text-anchor="end" font-family="Liberation Sans, sans-serif" stroke="#000" stroke-width="0.4">1000</text>
<path d="M424.1,629.8 H427.6" stroke="#000" stroke-width="1.4"/>
<text transform="translate(418.6,633.0) scale(0.9,1)" font-size="9.4" text-anchor="end" font-family="Liberation Sans, sans-serif" stroke="#000" stroke-width="0.4">1500</text>
<path d="M427.6,698.0 V701.2" stroke="#000" stroke-width="1.4"/>
<text transform="translate(427.6,713.6) scale(0.9,1)" font-size="9.1" text-anchor="middle" font-family="Liberation Sans, sans-serif" stroke="#000" stroke-width="0.4">0</text>
<path d="M469.1,698.0 V701.2" stroke="#000" stroke-width="1.4"/>
<text transform="translate(469.1,713.6) scale(0.9,1)" font-size="9.1" text-anchor="middle" font-family="Liberation Sans, sans-serif" stroke="#000" stroke-width="0.4">10</text>
<path d="M510.5,698.0 V701.2" stroke="#000" stroke-width="1.4"/>
<text transform="translate(510.5,713.6) scale(0.9,1)" font-size="9.1" text-anchor="middle" font-family="Liberation Sans, sans-serif" stroke="#000" stroke-width="0.4">20</text>
<path d="M552.0,698.0 V701.2" stroke="#000" stroke-width="1.4"/>
<text transform="translate(552.0,713.6) scale(0.9,1)" font-size="9.1" text-anchor="middle" font-family="Liberation Sans, sans-serif" stroke="#000" stroke-width="0.4">30</text>
<path d="M593.4,698.0 V701.2" stroke="#000" stroke-width="1.4"/>
<text transform="translate(593.4,713.6) scale(0.9,1)" font-size="9.1" text-anchor="middle" font-family="Liberation Sans, sans-serif" stroke="#000" stroke-width="0.4">40</text>
<text transform="translate(387.3,657.2) rotate(-90)" x="0" y="4.5" font-size="12.5" font-weight="bold" text-anchor="middle" font-family="Liberation Sans, sans-serif">kN</text>
<text x="521.7" y="726.6" font-size="10.8" text-anchor="middle" font-weight="bold" font-family="Liberation Sans, sans-serif" textLength="111" lengthAdjust="spacingAndGlyphs">Center deflection (mm)</text>
<path d="M426.7,732.0 V814.6 H615.3" fill="none" stroke="#000" stroke-width="1.6"/>
<path d="M423.2,814.6 H426.7" stroke="#000" stroke-width="1.4"/>
<text transform="translate(417.8,817.9) scale(0.9,1)" font-size="9.4" text-anchor="end" font-family="Liberation Sans, sans-serif" stroke="#000" stroke-width="0.4">0</text>
<path d="M423.2,794.0 H426.7" stroke="#000" stroke-width="1.4"/>
<text transform="translate(417.8,797.3) scale(0.9,1)" font-size="9.4" text-anchor="end" font-family="Liberation Sans, sans-serif" stroke="#000" stroke-width="0.4">0.5</text>
<path d="M423.2,773.4 H426.7" stroke="#000" stroke-width="1.4"/>
<text transform="translate(417.8,776.7) scale(0.9,1)" font-size="9.4" text-anchor="end" font-family="Liberation Sans, sans-serif" stroke="#000" stroke-width="0.4">1</text>
<path d="M423.2,752.8 H426.7" stroke="#000" stroke-width="1.4"/>
<text transform="translate(417.8,756.1) scale(0.9,1)" font-size="9.4" text-anchor="end" font-family="Liberation Sans, sans-serif" stroke="#000" stroke-width="0.4">1.5</text>
<path d="M423.2,732.2 H426.7" stroke="#000" stroke-width="1.4"/>
<text transform="translate(417.8,735.5) scale(0.9,1)" font-size="9.4" text-anchor="end" font-family="Liberation Sans, sans-serif" stroke="#000" stroke-width="0.4">2</text>
<path d="M426.7,814.6 V817.8" stroke="#000" stroke-width="1.4"/>
<text transform="translate(426.7,830.2) scale(0.9,1)" font-size="9.1" text-anchor="middle" font-family="Liberation Sans, sans-serif" stroke="#000" stroke-width="0.4">0</text>
<path d="M468.6,814.6 V817.8" stroke="#000" stroke-width="1.4"/>
<text transform="translate(468.6,830.2) scale(0.9,1)" font-size="9.1" text-anchor="middle" font-family="Liberation Sans, sans-serif" stroke="#000" stroke-width="0.4">10</text>
<path d="M510.4,814.6 V817.8" stroke="#000" stroke-width="1.4"/>
<text transform="translate(510.4,830.2) scale(0.9,1)" font-size="9.1" text-anchor="middle" font-family="Liberation Sans, sans-serif" stroke="#000" stroke-width="0.4">20</text>
<path d="M552.2,814.6 V817.8" stroke="#000" stroke-width="1.4"/>
<text transform="translate(552.2,830.2) scale(0.9,1)" font-size="9.1" text-anchor="middle" font-family="Liberation Sans, sans-serif" stroke="#000" stroke-width="0.4">30</text>
<path d="M594.1,814.6 V817.8" stroke="#000" stroke-width="1.4"/>
<text transform="translate(594.1,830.2) scale(0.9,1)" font-size="9.1" text-anchor="middle" font-family="Liberation Sans, sans-serif" stroke="#000" stroke-width="0.4">40</text>
<text transform="translate(396.5,773.6) rotate(-90)" x="0" y="4" font-size="12" text-anchor="middle" stroke="#000" stroke-width="0.45" font-family="Liberation Sans, sans-serif">ε<tspan font-size="8" dy="2.6">s</tspan><tspan dy="-2.6">/ε</tspan><tspan font-size="8" dy="2.6">y</tspan></text>
<text x="593.8" y="812.1" font-size="10.2" text-anchor="start" font-weight="normal" font-family="Liberation Sans, sans-serif" textLength="34" lengthAdjust="spacingAndGlyphs" stroke="#000" stroke-width="0.3">δ (mm)</text>
<path d="M427.0,834.8 V917.4 H615.3" fill="none" stroke="#000" stroke-width="1.6"/>
<path d="M423.5,917.4 H427.0" stroke="#000" stroke-width="1.4"/>
<text transform="translate(417.8,920.7) scale(0.9,1)" font-size="9.4" text-anchor="end" font-family="Liberation Sans, sans-serif" stroke="#000" stroke-width="0.4">0</text>
<path d="M423.5,896.8 H427.0" stroke="#000" stroke-width="1.4"/>
<text transform="translate(417.8,900.1) scale(0.9,1)" font-size="9.4" text-anchor="end" font-family="Liberation Sans, sans-serif" stroke="#000" stroke-width="0.4">0.5</text>
<path d="M423.5,876.2 H427.0" stroke="#000" stroke-width="1.4"/>
<text transform="translate(417.8,879.5) scale(0.9,1)" font-size="9.4" text-anchor="end" font-family="Liberation Sans, sans-serif" stroke="#000" stroke-width="0.4">1</text>
<path d="M423.5,855.6 H427.0" stroke="#000" stroke-width="1.4"/>
<text transform="translate(417.8,858.9) scale(0.9,1)" font-size="9.4" text-anchor="end" font-family="Liberation Sans, sans-serif" stroke="#000" stroke-width="0.4">1.5</text>
<path d="M423.5,835.0 H427.0" stroke="#000" stroke-width="1.4"/>
<text transform="translate(417.8,838.3) scale(0.9,1)" font-size="9.4" text-anchor="end" font-family="Liberation Sans, sans-serif" stroke="#000" stroke-width="0.4">2</text>
<path d="M427.0,917.4 V920.6" stroke="#000" stroke-width="1.4"/>
<text transform="translate(427.0,933.0) scale(0.9,1)" font-size="9.1" text-anchor="middle" font-family="Liberation Sans, sans-serif" stroke="#000" stroke-width="0.4">0</text>
<path d="M468.8,917.4 V920.6" stroke="#000" stroke-width="1.4"/>
<text transform="translate(468.8,933.0) scale(0.9,1)" font-size="9.1" text-anchor="middle" font-family="Liberation Sans, sans-serif" stroke="#000" stroke-width="0.4">10</text>
<path d="M510.6,917.4 V920.6" stroke="#000" stroke-width="1.4"/>
<text transform="translate(510.6,933.0) scale(0.9,1)" font-size="9.1" text-anchor="middle" font-family="Liberation Sans, sans-serif" stroke="#000" stroke-width="0.4">20</text>
<path d="M552.4,917.4 V920.6" stroke="#000" stroke-width="1.4"/>
<text transform="translate(552.4,933.0) scale(0.9,1)" font-size="9.1" text-anchor="middle" font-family="Liberation Sans, sans-serif" stroke="#000" stroke-width="0.4">30</text>
<path d="M594.2,917.4 V920.6" stroke="#000" stroke-width="1.4"/>
<text transform="translate(594.2,933.0) scale(0.9,1)" font-size="9.1" text-anchor="middle" font-family="Liberation Sans, sans-serif" stroke="#000" stroke-width="0.4">40</text>
<text transform="translate(396.5,876.4) rotate(-90)" x="0" y="4" font-size="12" text-anchor="middle" stroke="#000" stroke-width="0.45" font-family="Liberation Sans, sans-serif">ε<tspan font-size="8" dy="2.6">s</tspan><tspan dy="-2.6">/ε</tspan><tspan font-size="8" dy="2.6">y</tspan></text>
<text x="593.8" y="914.9" font-size="10.2" text-anchor="start" font-weight="normal" font-family="Liberation Sans, sans-serif" textLength="34" lengthAdjust="spacingAndGlyphs" stroke="#000" stroke-width="0.3">δ (mm)</text>
<path d="M423.7,625.0 H461.8 V917.4" fill="none" stroke="#FF0000" stroke-width="1.3" stroke-dasharray="4.2,3"/>
<path d="M423.7,645.7 H447.9 V917.4" fill="none" stroke="#4F81BD" stroke-width="1.3" stroke-dasharray="4.2,3"/>
<path d="M428.2,697.0 L433.1,683.0 L437.5,671.3 L441.9,659.6 L446.3,648.0 L448.6,643.6 L450.7,639.2 L452.7,636.3 L455.0,631.9 L458.0,628.1 L460.3,625.2 L461.8,624.0 L463.2,624.6 L464.4,626.9 L466.7,628.1 L469.1,626.9 L471.1,624.6 L473.1,622.3 L475.5,621.1 L478.4,620.5 L481.3,620.8 L485.7,621.1 L490.1,622.3 L494.5,623.1 L498.2,624.6 L501.2,626.9 L503.2,629.0 L504.7,631.0 L505.5,632.8 L506.1,634.8 L507.0,632.8 L509.1,632.8 L512.0,633.9 L516.4,636.9 L522.2,638.3 L528.0,639.8 L533.9,641.5 L539.7,643.3 L545.5,644.5 L551.4,645.0 L560.1,645.0 L568.9,644.7 L577.7,644.2 L586.4,643.6 L595.2,642.7 L594.6,646.5 L592.3,652.3 L587.9,659.6 L582.0,666.9 L574.7,674.2 L566.0,680.1 L557.2,684.5 L548.5,688.2 L539.7,691.8 L530.9,695.3 L525.1,697.0" fill="none" stroke="#000" stroke-width="2.5" stroke-linejoin="round" stroke-linecap="butt"/>
<path d="M433.8,814.3 C434.7,813.9 437.7,812.6 439.6,811.4 C441.5,810.2 443.5,808.5 445.4,807.0 C447.4,805.6 449.3,804.0 451.3,802.7 C453.2,801.3 455.4,800.0 457.1,799.0 C458.8,798.0 460.3,797.6 461.5,796.8 C462.7,796.1 463.4,795.5 464.4,794.6 C465.4,793.8 466.1,793.1 467.3,791.7 C468.6,790.4 470.4,788.2 471.7,786.6 C473.1,785.0 474.4,783.6 475.4,782.2 C476.3,780.9 476.8,779.7 477.6,778.6 C478.3,777.5 478.8,776.3 479.7,775.7 C480.7,775.0 481.6,775.3 483.4,774.9 C485.2,774.6 488.3,773.8 490.7,773.5 C493.1,773.1 495.3,772.9 498.0,772.7 C500.7,772.6 503.8,772.4 506.8,772.4 C509.7,772.4 512.5,772.7 515.5,772.7 C518.6,772.8 523.5,772.8 525.0,772.7 C526.5,772.6 524.4,772.7 524.7,772.1 C525.0,771.5 526.6,769.4 527.0,768.9" fill="none" stroke="#C0504D" stroke-width="1.4" stroke-linejoin="round"/>
<path d="M468.8,788.8 C469.5,787.7 471.7,784.3 473.2,782.2 C474.6,780.2 476.3,778.3 477.6,776.4 C478.8,774.4 479.5,772.5 480.5,770.5 C481.4,768.6 482.2,766.5 483.4,764.7 C484.6,762.9 486.1,761.4 487.8,759.6 C489.5,757.8 491.7,755.5 493.6,753.8 C495.6,752.1 497.3,750.4 499.5,749.4 C501.6,748.4 504.1,748.0 506.8,747.6 C509.4,747.3 513.3,747.3 515.5,747.2 C517.7,747.1 517.6,747.1 519.9,747.0 C522.2,747.0 526.4,746.5 529.3,746.7 C532.2,746.9 536.1,747.9 537.5,748.1" fill="none" stroke="#C0504D" stroke-width="1.4" stroke-linejoin="round" stroke-dasharray="4,3"/>
<path d="M473.2,784.4 C473.9,783.4 476.3,780.3 477.6,778.6 C478.8,776.9 479.5,775.5 480.5,774.2 C481.4,772.9 482.2,771.6 483.4,770.5 C484.6,769.5 486.1,768.6 487.8,767.6 C489.5,766.7 491.7,765.6 493.6,764.7 C495.6,763.9 498.0,762.8 499.5,762.5 C500.9,762.3 501.4,762.8 502.4,763.2 C503.3,763.7 504.3,764.6 505.3,765.4 C506.3,766.3 507.0,767.5 508.2,768.4 C509.4,769.2 510.9,769.9 512.6,770.5 C514.3,771.2 516.4,771.7 518.4,772.0 C520.5,772.3 523.6,771.9 525.0,772.4 C526.4,772.9 524.9,774.2 527.0,775.0 C529.1,775.8 533.8,776.4 537.5,777.0 C541.2,777.6 545.3,778.0 549.2,778.4 C553.1,778.8 557.0,778.9 560.9,779.4 C564.8,779.9 568.7,780.2 572.6,781.1 C576.5,782.0 581.3,783.8 584.2,784.6 C587.1,785.4 588.4,785.5 590.1,785.8 C591.8,786.1 593.5,786.1 594.2,786.2" fill="none" stroke="#C0504D" stroke-width="1.4" stroke-linejoin="round" stroke-dasharray="5,2.5,1.2,2.5,1.2,2.5"/>
<path d="M460.0,797.6 C461.0,797.1 464.2,795.5 465.9,794.6 C467.6,793.8 468.7,793.3 470.3,792.4 C471.8,791.6 474.5,790.0 475.4,789.5" fill="none" stroke="#C0504D" stroke-width="1.4" stroke-linejoin="round" stroke-dasharray="4,3"/>
<path d="M426.5,814.3 C427.2,814.2 429.4,814.2 430.8,813.3 C432.3,812.5 433.8,810.8 435.2,809.2 C436.7,807.7 438.1,805.8 439.6,804.1 C441.1,802.4 442.5,800.5 444.0,799.0 C445.4,797.6 446.9,796.6 448.4,795.4 C449.8,794.1 451.3,792.8 452.7,791.7 C454.2,790.6 455.8,789.8 457.1,788.8 C458.5,787.8 459.8,786.0 460.8,785.9 C461.7,785.8 462.1,787.6 463.0,788.1 C463.8,788.5 464.7,788.6 465.9,788.5 C467.1,788.4 468.8,787.9 470.3,787.6 C471.7,787.4 472.4,787.1 474.6,787.0 C476.8,786.9 480.5,787.0 483.4,787.0 C486.3,787.1 489.2,787.2 492.2,787.3 C495.1,787.4 498.0,787.6 500.9,787.6 C503.8,787.7 506.8,787.7 509.7,787.6 C512.6,787.6 516.4,787.4 518.4,787.3 C520.5,787.3 518.9,787.4 522.1,787.2 C525.3,786.9 532.0,786.5 537.5,785.8 C543.0,785.1 549.1,783.9 555.0,782.9 C560.9,781.9 567.7,780.8 572.6,780.0 C577.5,779.2 580.6,778.7 584.2,778.2 C587.8,777.7 592.5,777.2 594.2,777.0" fill="none" stroke="#000" stroke-width="1.5" stroke-linejoin="round"/>
<path d="M433.8,810.7 C434.7,809.6 437.9,806.1 439.6,804.1 C441.3,802.2 442.5,800.6 444.0,799.0 C445.4,797.4 446.7,796.1 448.4,794.6 C450.1,793.2 452.3,791.7 454.2,790.3 C456.1,788.8 458.6,786.8 460.0,785.9 C461.5,784.9 461.5,784.9 463.0,784.4 C464.4,784.0 466.6,783.6 468.8,783.2 C471.0,782.9 473.7,782.3 476.1,782.2 C478.5,782.1 481.0,782.5 483.4,782.7 C485.8,782.8 488.3,783.2 490.7,783.2 C493.1,783.3 495.3,783.2 498.0,783.2 C500.7,783.2 503.8,783.3 506.8,783.2 C509.7,783.2 513.1,783.0 515.5,783.0 C517.9,782.9 518.7,783.0 521.4,782.8 C524.0,782.6 528.0,782.1 531.7,781.7 C535.4,781.3 539.5,780.9 543.4,780.5 C547.3,780.1 551.1,779.6 555.0,779.1 C558.9,778.6 562.8,778.1 566.7,777.6 C570.6,777.1 574.5,776.4 578.4,775.9 C582.3,775.4 587.5,774.8 590.1,774.5 C592.7,774.2 593.5,774.2 594.2,774.1" fill="none" stroke="#000" stroke-width="1.5" stroke-linejoin="round" stroke-dasharray="4,3"/>
<path d="M436.7,809.2 C437.7,808.0 440.6,804.1 442.5,801.9 C444.5,799.7 446.4,798.3 448.4,796.1 C450.3,793.9 452.3,790.7 454.2,788.8 C456.1,786.8 458.1,785.4 460.0,784.4 C462.0,783.4 463.9,783.2 465.9,782.7 C467.8,782.2 469.8,781.8 471.7,781.5 C473.7,781.2 475.6,781.0 477.6,780.8 C479.5,780.5 481.2,780.2 483.4,780.0 C485.6,779.9 488.3,779.9 490.7,779.7 C493.1,779.6 495.6,779.3 498.0,779.3 C500.4,779.4 502.9,779.8 505.3,780.0 C507.7,780.3 510.2,780.6 512.6,780.8 C515.0,781.0 515.7,781.1 519.9,781.2 C524.0,781.3 531.6,781.5 537.5,781.1 C543.4,780.7 550.1,779.6 555.0,778.8 C559.9,778.0 562.8,777.3 566.7,776.5 C570.6,775.7 574.5,775.0 578.4,774.1 C582.3,773.2 587.5,771.9 590.1,771.2 C592.7,770.5 593.5,770.2 594.2,770.0" fill="none" stroke="#000" stroke-width="1.5" stroke-linejoin="round" stroke-dasharray="5,2.5,1.2,2.5,1.2,2.5"/>
<path d="M426.5,917.6 C428.2,917.3 433.3,916.6 436.7,916.1 C440.1,915.6 444.0,915.0 446.9,914.7 C449.8,914.3 451.8,914.1 454.2,913.9 C456.6,913.7 459.1,913.5 461.5,913.5 C463.9,913.5 465.1,913.8 468.8,913.9 C472.4,914.0 478.5,914.0 483.4,914.1 C488.3,914.1 493.1,914.2 498.0,914.2 C502.9,914.3 508.9,914.2 512.6,914.2 C516.2,914.2 514.8,914.4 519.9,914.2 C525.0,914.1 535.6,913.5 543.4,913.3 C551.2,913.1 558.2,913.2 566.7,913.2 C575.2,913.2 589.6,913.2 594.2,913.2" fill="none" stroke="#C0504D" stroke-width="1.4" stroke-linejoin="round"/>
<path d="M460.0,908.8 C461.0,908.5 463.9,907.2 465.9,906.6 C467.8,906.1 469.8,905.9 471.7,905.6 C473.7,905.4 475.6,905.3 477.6,905.2 C479.5,905.0 481.2,904.9 483.4,904.7 C485.6,904.6 488.3,904.5 490.7,904.5 C493.1,904.4 495.3,904.3 498.0,904.2 C500.7,904.0 503.8,903.8 506.8,903.7 C509.7,903.6 513.3,903.7 515.5,903.7 C517.7,903.7 517.2,903.7 519.9,903.7 C522.6,903.7 527.8,903.7 531.7,903.8 C535.6,903.9 540.3,904.1 543.4,904.2 C546.5,904.3 548.6,904.1 550.4,904.5 C552.1,904.9 552.7,906.0 553.9,906.5 C555.1,907.0 556.6,906.8 557.4,907.7 C558.2,908.6 558.3,911.1 558.5,911.8" fill="none" stroke="#C0504D" stroke-width="1.4" stroke-linejoin="round" stroke-dasharray="4,3"/>
<path d="M565.0,906.5 L565.0,912.9" fill="none" stroke="#C0504D" stroke-width="1.3" stroke-linejoin="round" stroke-linecap="butt"/>
<path d="M439.6,913.2 C440.6,912.5 443.5,910.3 445.4,908.8 C447.4,907.4 449.5,906.2 451.3,904.5 C453.1,902.7 455.0,900.8 456.4,898.6 C457.7,896.4 458.5,893.5 459.3,891.3 C460.2,889.1 460.6,887.1 461.5,885.5 C462.3,883.9 463.2,882.8 464.4,881.8 C465.6,880.9 467.1,880.2 468.8,879.6 C470.5,879.1 472.7,878.7 474.6,878.5 C476.6,878.2 478.5,878.6 480.5,878.2 C482.4,877.8 484.4,876.8 486.3,876.0 C488.3,875.2 490.5,874.6 492.2,873.5 C493.9,872.4 495.3,871.1 496.5,869.4 C497.7,867.8 498.5,866.0 499.5,863.6 C500.4,861.1 501.2,857.5 502.4,854.8 C503.6,852.1 505.0,849.7 506.8,847.5 C508.5,845.3 510.6,843.7 512.6,841.7 C514.5,839.6 517.5,836.2 518.4,835.1" fill="none" stroke="#C0504D" stroke-width="1.4" stroke-linejoin="round" stroke-dasharray="5,2.5,1.2,2.5,1.2,2.5"/>
<path d="M461.5,889.9 C462.0,888.9 463.2,885.2 464.4,884.0 C465.6,882.8 467.3,882.9 468.8,882.6 C470.3,882.2 472.1,881.8 473.2,881.8 C474.3,881.8 474.6,881.7 475.4,882.6 C476.1,883.4 476.7,885.5 477.6,886.9 C478.4,888.4 479.5,890.1 480.5,891.3 C481.4,892.5 482.5,893.4 483.4,894.2 C484.2,895.1 485.2,896.1 485.6,896.4" fill="none" stroke="#C0504D" stroke-width="1.4" stroke-linejoin="round" stroke-dasharray="6,2.5,1.2,2.5"/>
<path d="M426.5,917.6 C427.7,917.3 431.6,916.6 433.8,916.1 C435.9,915.6 437.4,915.2 439.6,914.7 C441.8,914.2 444.5,913.7 446.9,913.2 C449.3,912.7 452.0,912.4 454.2,911.8 C456.4,911.1 458.7,910.0 460.0,909.6 C461.4,909.1 461.5,908.5 462.2,908.8 C463.0,909.2 463.3,911.1 464.4,911.8 C465.5,912.4 466.8,912.5 468.8,912.5 C470.7,912.5 473.7,912.1 476.1,911.8 C478.5,911.4 481.0,910.9 483.4,910.6 C485.8,910.2 488.3,909.9 490.7,909.6 C493.1,909.3 495.6,909.1 498.0,908.8 C500.4,908.6 502.9,908.4 505.3,908.1 C507.7,907.8 510.2,907.3 512.6,907.1 C515.0,906.8 516.7,906.8 519.9,906.6 C523.1,906.4 527.8,906.1 531.7,905.9 C535.6,905.7 539.5,905.5 543.4,905.3 C547.3,905.1 551.1,904.8 555.0,904.7 C558.9,904.7 562.8,905.0 566.7,905.0 C570.6,905.0 573.8,904.7 578.4,904.5 C583.0,904.3 591.6,903.9 594.2,903.8" fill="none" stroke="#000" stroke-width="1.5" stroke-linejoin="round"/>
<path d="M451.3,911.8 C452.3,911.3 455.2,909.6 457.1,908.8 C459.1,908.1 461.0,907.7 463.0,907.4 C464.9,907.0 466.8,906.9 468.8,906.6 C470.7,906.4 472.7,906.2 474.6,905.9 C476.6,905.7 478.5,905.5 480.5,905.2 C482.4,904.9 484.4,904.5 486.3,904.2 C488.3,903.8 490.2,903.4 492.2,903.0 C494.1,902.6 495.8,902.0 498.0,901.5 C500.2,901.0 502.9,900.6 505.3,900.1 C507.7,899.6 510.2,899.1 512.6,898.6 C515.0,898.2 516.7,897.9 519.9,897.4 C523.1,897.0 527.8,896.4 531.7,896.0 C535.6,895.6 539.5,895.1 543.4,894.8 C547.3,894.5 552.5,894.3 555.0,894.2 C557.5,894.1 556.9,894.0 558.5,894.2 C560.1,894.4 562.0,895.0 564.4,895.4 C566.8,895.8 569.7,896.3 572.6,896.6 C575.5,896.9 578.9,897.1 581.9,897.2 C584.9,897.3 589.2,897.2 590.7,897.2" fill="none" stroke="#000" stroke-width="1.5" stroke-linejoin="round" stroke-dasharray="4,3"/>
<path d="M454.2,910.3 C454.9,909.6 457.4,907.4 458.6,905.9 C459.8,904.5 460.8,903.5 461.5,901.5 C462.2,899.6 462.3,896.9 463.0,894.2 C463.6,891.6 464.4,887.9 465.1,885.5 C465.9,883.0 466.7,881.1 467.3,879.6 C467.9,878.2 468.4,878.9 468.8,876.7 C469.2,874.5 469.3,870.6 469.5,866.5 C469.7,862.4 469.8,856.5 470.0,851.9 C470.1,847.3 470.2,840.9 470.3,838.8" fill="none" stroke="#000" stroke-width="1.5" stroke-linejoin="round" stroke-dasharray="5,2.5,1.2,2.5,1.2,2.5"/>
<path d="M463.0,907.4 C463.9,907.0 467.1,905.8 468.8,905.2 C470.5,904.6 472.1,904.3 473.2,903.7 C474.3,903.1 474.9,902.9 475.4,901.5 C475.9,900.2 475.9,897.9 476.1,895.7 C476.3,893.5 476.3,890.2 476.8,888.4 C477.3,886.6 478.2,885.4 479.0,884.7 C479.9,884.1 480.7,884.5 481.9,884.7 C483.2,885.0 484.6,885.7 486.3,886.2 C488.0,886.7 490.2,887.1 492.2,887.7 C494.1,888.3 496.0,889.1 498.0,889.9 C499.9,890.6 501.9,891.4 503.8,892.0 C505.8,892.7 507.7,893.5 509.7,893.5 C511.6,893.5 513.8,892.8 515.5,892.0 C517.2,891.3 519.1,889.3 519.9,889.1 C520.6,888.9 518.8,891.0 520.0,890.7 C521.2,890.4 524.7,888.4 527.0,887.2 C529.3,886.0 531.7,885.0 534.0,883.7 C536.3,882.4 539.0,881.4 541.0,879.6 C543.0,877.9 544.1,875.2 545.7,873.2 C547.3,871.2 548.9,869.0 550.4,867.4 C551.9,865.8 553.2,864.5 555.0,863.3 C556.8,862.1 558.9,861.9 560.9,860.4 C562.9,858.9 565.0,856.4 566.7,854.5 C568.5,852.6 569.6,850.8 571.4,849.3 C573.1,847.8 575.5,846.3 577.2,845.8 C579.0,845.3 580.1,847.0 581.9,846.4 C583.6,845.8 585.7,844.1 587.7,842.3 C589.8,840.5 593.1,836.9 594.2,835.8" fill="none" stroke="#000" stroke-width="1.5" stroke-linejoin="round" stroke-dasharray="6,2.5,1.2,2.5"/>
<path d="M632.0,740.5 H650.3" stroke="#C0504D" stroke-width="1.5"/>
<text x="655.6" y="743.6" font-size="8.6" text-anchor="start" font-weight="normal" font-family="Liberation Sans, sans-serif" stroke="#000" stroke-width="0.35">FA-1</text>
<path d="M632.0,756.8 H650.3" stroke="#C0504D" stroke-width="1.5" stroke-dasharray="5,4.5"/>
<text x="655.6" y="759.9" font-size="8.6" text-anchor="start" font-weight="normal" font-family="Liberation Sans, sans-serif" stroke="#000" stroke-width="0.35">FA-2</text>
<path d="M632.0,772.2 H650.3" stroke="#C0504D" stroke-width="1.5" stroke-dasharray="5,3.5,1,3.5"/>
<text x="655.6" y="775.3" font-size="8.6" text-anchor="start" font-weight="normal" font-family="Liberation Sans, sans-serif" stroke="#000" stroke-width="0.35">FA-3</text>
<path d="M632.0,786.9 H650.3" stroke="#000" stroke-width="1.6"/>
<text x="655.6" y="790.0" font-size="8.6" text-anchor="start" font-weight="normal" font-family="Liberation Sans, sans-serif" stroke="#000" stroke-width="0.35">FB-1</text>
<path d="M632.0,803.2 H650.3" stroke="#000" stroke-width="1.6" stroke-dasharray="5,4.5"/>
<text x="655.6" y="806.3" font-size="8.6" text-anchor="start" font-weight="normal" font-family="Liberation Sans, sans-serif" stroke="#000" stroke-width="0.35">FB-2</text>
<path d="M632.0,818.6 H650.3" stroke="#000" stroke-width="1.6" stroke-dasharray="5,3.5,1,3.5"/>
<text x="655.6" y="821.7" font-size="8.6" text-anchor="start" font-weight="normal" font-family="Liberation Sans, sans-serif" stroke="#000" stroke-width="0.35">FB-3</text>
<path d="M632.0,841.2 H650.3" stroke="#C0504D" stroke-width="1.5"/>
<text x="655.6" y="844.3" font-size="8.6" text-anchor="start" font-weight="normal" font-family="Liberation Sans, sans-serif" stroke="#000" stroke-width="0.35">SA-1</text>
<path d="M632.0,854.0 H650.3" stroke="#C0504D" stroke-width="1.5" stroke-dasharray="5,4.5"/>
<text x="655.6" y="857.1" font-size="8.6" text-anchor="start" font-weight="normal" font-family="Liberation Sans, sans-serif" stroke="#000" stroke-width="0.35">SA-2</text>
<path d="M632.0,866.8 H650.3" stroke="#C0504D" stroke-width="1.5" stroke-dasharray="5,3.5,1,3.5"/>
<text x="655.6" y="869.9" font-size="8.6" text-anchor="start" font-weight="normal" font-family="Liberation Sans, sans-serif" stroke="#000" stroke-width="0.35">SA-3</text>
<path d="M632.0,879.9 H650.3" stroke="#C0504D" stroke-width="1.5" stroke-dasharray="11,5,1,20"/>
<text x="655.6" y="883.0" font-size="8.6" text-anchor="start" font-weight="normal" font-family="Liberation Sans, sans-serif" stroke="#000" stroke-width="0.35">SA-4</text>
<path d="M632.0,893.5 H650.3" stroke="#000" stroke-width="1.6"/>
<text x="655.6" y="896.6" font-size="8.6" text-anchor="start" font-weight="normal" font-family="Liberation Sans, sans-serif" stroke="#000" stroke-width="0.35">SB-1</text>
<path d="M632.0,906.2 H650.3" stroke="#000" stroke-width="1.6" stroke-dasharray="5,4.5"/>
<text x="655.6" y="909.3" font-size="8.6" text-anchor="start" font-weight="normal" font-family="Liberation Sans, sans-serif" stroke="#000" stroke-width="0.35">SB-2</text>
<path d="M632.0,919.4 H650.3" stroke="#000" stroke-width="1.6" stroke-dasharray="5,3.5,1,3.5"/>
<text x="655.6" y="922.5" font-size="8.6" text-anchor="start" font-weight="normal" font-family="Liberation Sans, sans-serif" stroke="#000" stroke-width="0.35">SB-3</text>
<path d="M632.0,932.5 H650.3" stroke="#000" stroke-width="1.6" stroke-dasharray="11,5,1,20"/>
<text x="655.6" y="935.6" font-size="8.6" text-anchor="start" font-weight="normal" font-family="Liberation Sans, sans-serif" stroke="#000" stroke-width="0.35">SB-4</text>
<text x="506.2" y="959.7" font-size="14" text-anchor="start" font-weight="bold" font-family="Liberation Sans, sans-serif">f</text>
<text x="520.9" y="959.7" font-size="16.3" font-family="Liberation Serif, serif" stroke="#000" stroke-width="0.2" textLength="30.3" lengthAdjust="spacingAndGlyphs">SP-6</text>
</svg>
</body></html>
